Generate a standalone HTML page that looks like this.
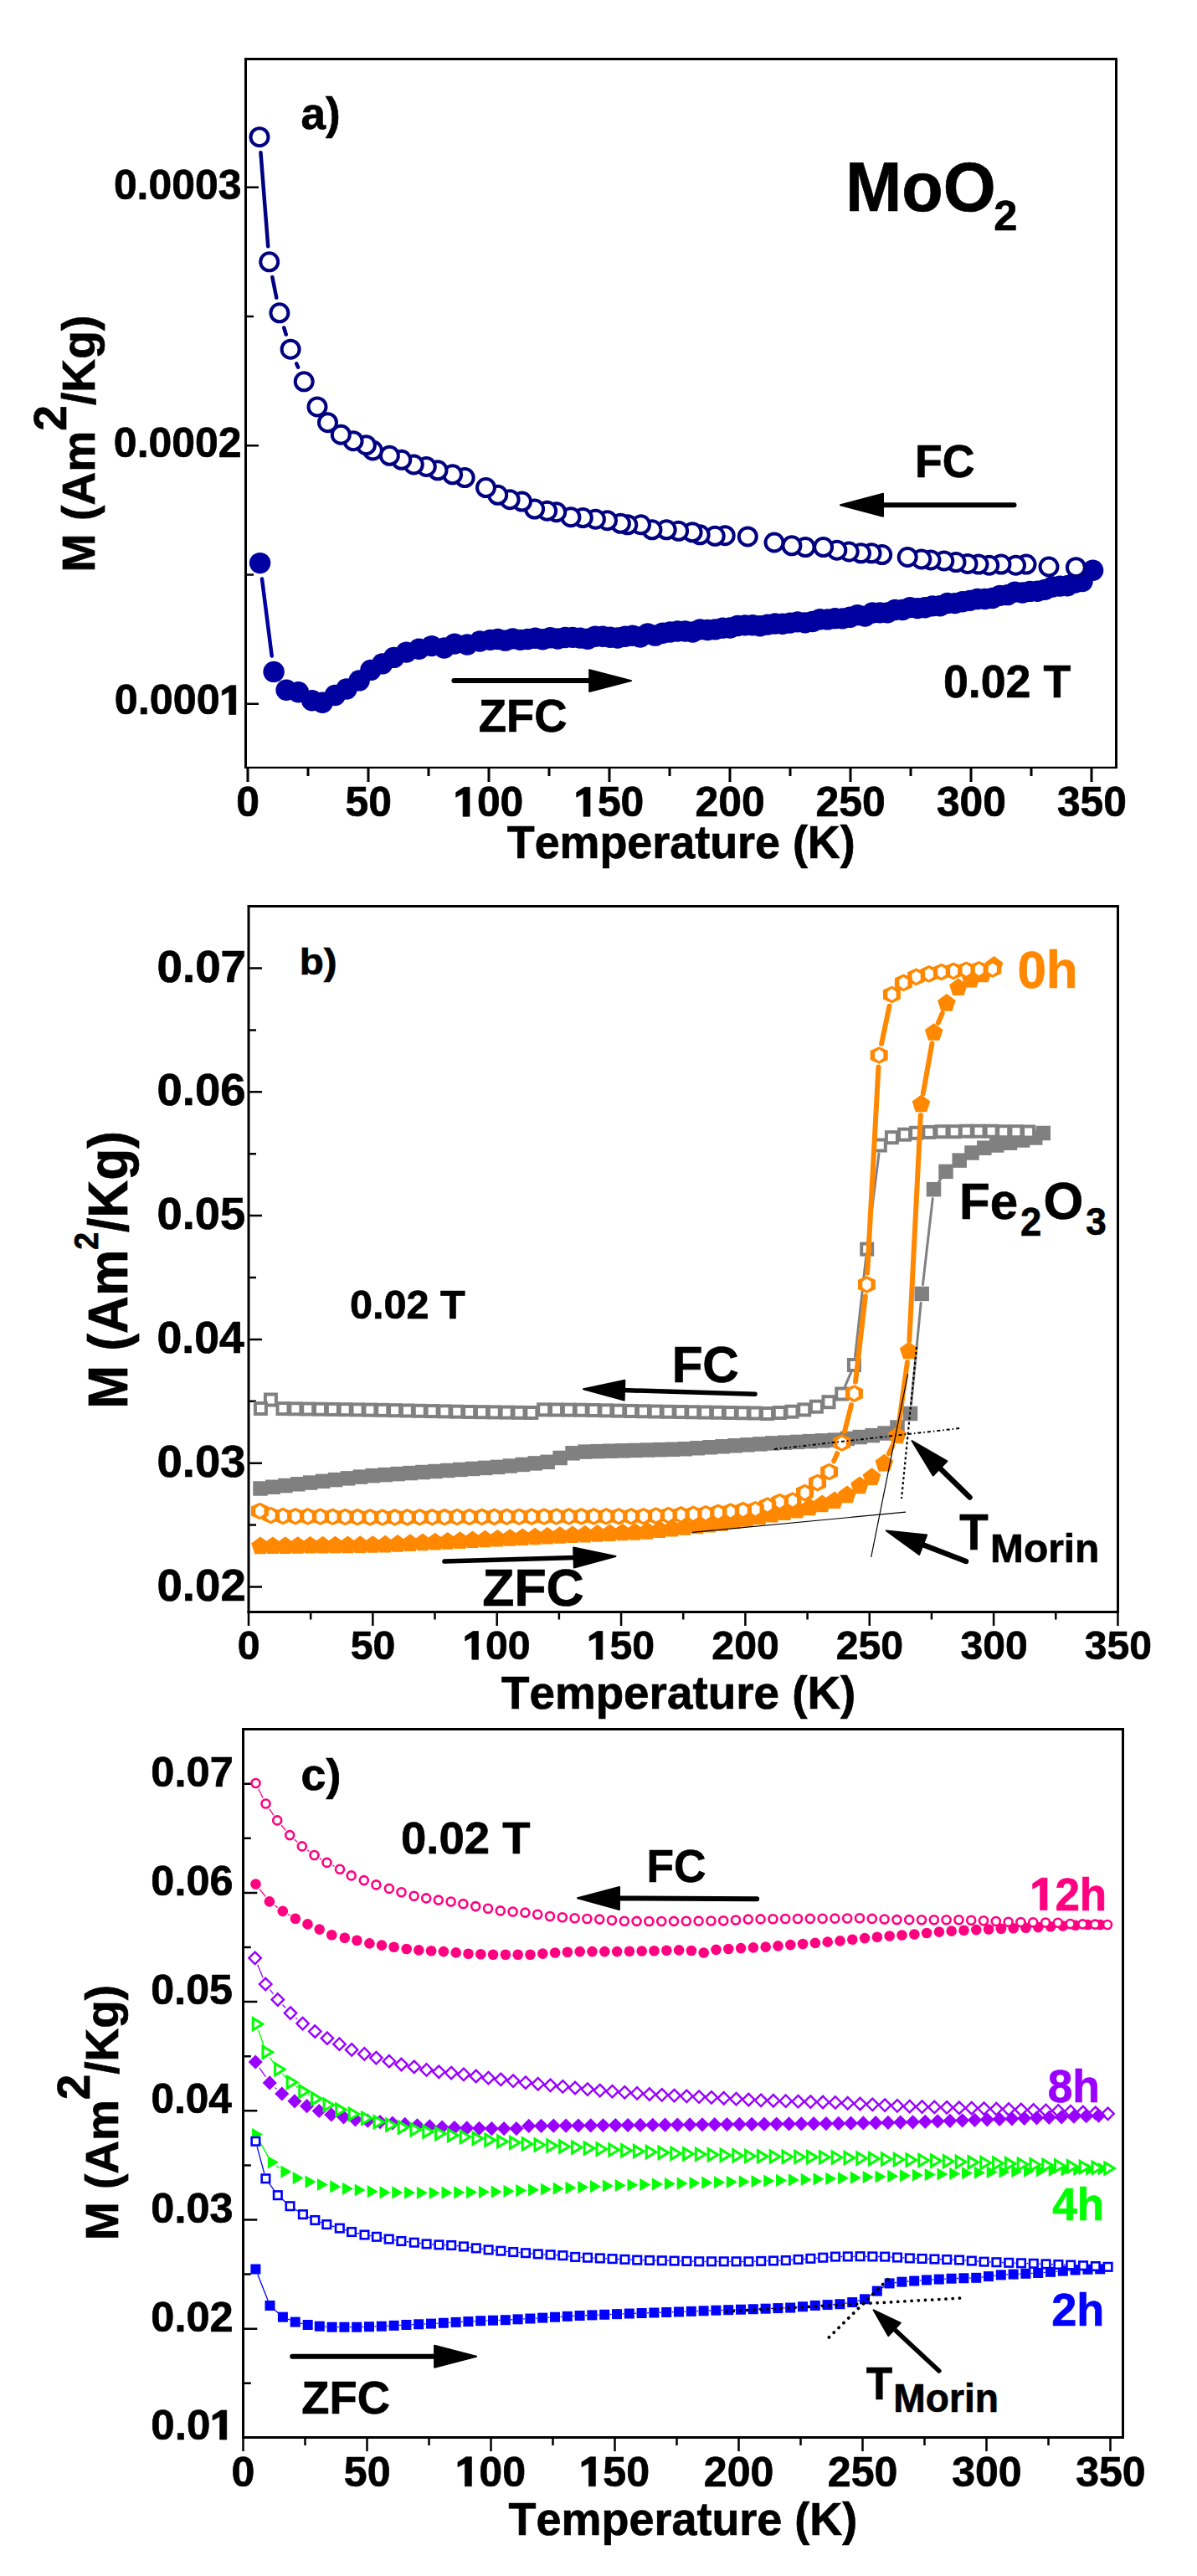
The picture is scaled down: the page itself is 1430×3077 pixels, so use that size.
<!DOCTYPE html>
<html><head><meta charset="utf-8"><style>
html,body{margin:0;padding:0;background:#fff;}
svg{display:block;}
text{font-family:"Liberation Sans",sans-serif;font-weight:bold;font-kerning:none;}
</style></head><body>
<svg width="1430" height="3077" viewBox="0 0 1430 3077">
<rect width="1430" height="3077" fill="#fff"/>
<path d="M293.5 918.05V70.5H1333.5V918.05" fill="none" stroke="#000" stroke-width="3" stroke-linejoin="miter"/>
<path d="M292 916.9H1335" stroke="#000" stroke-width="2.3"/>
<path d="M296 917.5V934M440 917.5V934M584 917.5V934M728 917.5V934M872 917.5V934M1016 917.5V934M1160 917.5V934M1304 917.5V934M368 917.5V927M512 917.5V927M656 917.5V927M800 917.5V927M944 917.5V927M1088 917.5V927M1232 917.5V927" stroke="#000" stroke-width="3"/>
<path d="M295 840.8H309M295 532.3H309M295 223.8H309M295 686.55H303M295 378.05H303" stroke="#000" stroke-width="2.5"/>
<g transform="translate(282.17 975.16) scale(1.0000 1)"><text font-size="49.86" fill="#000" stroke="#000" stroke-width="0.7">0</text></g>
<g transform="translate(412.53 975.16) scale(1.0000 1)"><text font-size="49.86" fill="#000" stroke="#000" stroke-width="0.7">50</text></g>
<g transform="translate(542.15 975.16) scale(1.0000 1)"><text font-size="49.86" fill="#000" stroke="#000" stroke-width="0.7"> 00</text><path d="M450 0L450 1120L105 945L105 1175L505 1430L775 1430L775 0Z" fill="#000" stroke="#000" stroke-width="28.75" transform="translate(0 0) scale(0.02434 -0.02434)"/></g>
<g transform="translate(686.15 975.16) scale(1.0000 1)"><text font-size="49.86" fill="#000" stroke="#000" stroke-width="0.7"> 50</text><path d="M450 0L450 1120L105 945L105 1175L505 1430L775 1430L775 0Z" fill="#000" stroke="#000" stroke-width="28.75" transform="translate(0 0) scale(0.02434 -0.02434)"/></g>
<g transform="translate(830.57 975.16) scale(1.0000 1)"><text font-size="49.86" fill="#000" stroke="#000" stroke-width="0.7">200</text></g>
<g transform="translate(974.57 975.16) scale(1.0000 1)"><text font-size="49.86" fill="#000" stroke="#000" stroke-width="0.7">250</text></g>
<g transform="translate(1118.94 975.09) scale(1.0000 1)"><text font-size="49.76" fill="#000" stroke="#000" stroke-width="0.7">300</text></g>
<g transform="translate(1262.94 975.09) scale(1.0000 1)"><text font-size="49.76" fill="#000" stroke="#000" stroke-width="0.7">350</text></g>
<g transform="translate(135.88 237.89) scale(1.0083 1)"><text font-size="49.47" fill="#000" stroke="#000" stroke-width="0.7">0.0003</text></g>
<g transform="translate(135.87 546.16) scale(1.0018 1)"><text font-size="49.86" fill="#000" stroke="#000" stroke-width="0.7">0.0002</text></g>
<g transform="translate(136.76 853.46) scale(1.0123 1)"><text font-size="49.72" fill="#000" stroke="#000" stroke-width="0.7">0.000 </text><path d="M450 0L450 1120L105 945L105 1175L505 1430L775 1430L775 0Z" fill="#000" stroke="#000" stroke-width="28.84" transform="translate(124.41 0) scale(0.02428 -0.02428)"/></g>
<g transform="translate(605.75 1024.55) scale(0.9726 1)"><text font-size="55.38" fill="#000" stroke="#000" stroke-width="0.7">Temperature (K)</text></g>
<text transform="translate(112.65 683.38) rotate(-90) scale(0.9829 1)" font-size="56.18" stroke="#000" stroke-width="0.7"><tspan>M (Am</tspan><tspan dy="-34">2</tspan><tspan dy="34">/Kg)</tspan></text>
<g transform="translate(359.6 154.47) scale(1.0013 1)"><text font-size="52.89" fill="#000" stroke="#000" stroke-width="0.7">a)</text></g>
<g transform="translate(1009.94 252.45) scale(0.9712 1)"><text font-size="83.28" fill="#000" stroke="#000" stroke-width="0.7">MoO</text></g>
<g transform="translate(1187.3 274.55) scale(1.0215 1)"><text font-size="49.41" fill="#000" stroke="#000" stroke-width="0.7">2</text></g>
<g transform="translate(1093.06 570.31) scale(0.9608 1)"><text font-size="55.79" fill="#000" stroke="#000" stroke-width="0.7">FC</text></g>
<path d="M1211.5 603.2L1053 603.2" stroke="#000" stroke-width="6" stroke-linecap="round"/>
<polygon points="1004,603.2 1055,589.7 1055,616.7" fill="#000" stroke="#000" stroke-width="2" stroke-linejoin="round"/>
<g transform="translate(571.83 873.71) scale(0.9923 1)"><text font-size="54.8" fill="#000" stroke="#000" stroke-width="0.7">ZFC</text></g>
<path d="M542.4 813.1L706.2 813.1" stroke="#000" stroke-width="6" stroke-linecap="round"/>
<polygon points="754.2,813.1 704.2,826.1 704.2,800.1" fill="#000" stroke="#000" stroke-width="2" stroke-linejoin="round"/>
<g transform="translate(1126.93 833.11) scale(0.9678 1)"><text font-size="55.51" fill="#000" stroke="#000" stroke-width="0.7">0.02 T</text></g>
<path d="M313 691.45L324.7 783.55" stroke="#0000A0" stroke-width="4.5" fill="none" stroke-linecap="round"/>
<circle cx="310.6" cy="672.6" r="12.7" fill="#0000A0"/><circle cx="327.1" cy="802.4" r="12.7" fill="#0000A0"/><circle cx="342.1" cy="824.2" r="12.7" fill="#0000A0"/><circle cx="356.4" cy="826.7" r="12.7" fill="#0000A0"/><circle cx="372.7" cy="836.7" r="12.7" fill="#0000A0"/><circle cx="385.2" cy="839.2" r="12.7" fill="#0000A0"/><circle cx="400.3" cy="830.5" r="12.7" fill="#0000A0"/><circle cx="414" cy="823" r="12.7" fill="#0000A0"/><circle cx="429.1" cy="812.9" r="12.7" fill="#0000A0"/><circle cx="442.9" cy="800.4" r="12.7" fill="#0000A0"/><circle cx="456.7" cy="792.9" r="12.7" fill="#0000A0"/><circle cx="470.5" cy="785.4" r="12.7" fill="#0000A0"/><circle cx="485.5" cy="779.1" r="12.7" fill="#0000A0"/><circle cx="500.5" cy="775.3" r="12.7" fill="#0000A0"/><circle cx="515.6" cy="771.6" r="12.7" fill="#0000A0"/><circle cx="530.6" cy="774" r="12.7" fill="#0000A0"/><circle cx="543.1" cy="769.1" r="12.7" fill="#0000A0"/><circle cx="558.2" cy="770" r="12.7" fill="#0000A0"/><circle cx="573.2" cy="766" r="12.7" fill="#0000A0"/><circle cx="585.7" cy="764.37" r="12.7" fill="#0000A0"/><circle cx="594.65" cy="763.55" r="12.7" fill="#0000A0"/><circle cx="603.61" cy="765.16" r="12.7" fill="#0000A0"/><circle cx="612.56" cy="762.89" r="12.7" fill="#0000A0"/><circle cx="621.51" cy="764.37" r="12.7" fill="#0000A0"/><circle cx="630.47" cy="763.57" r="12.7" fill="#0000A0"/><circle cx="639.42" cy="762.27" r="12.7" fill="#0000A0"/><circle cx="648.37" cy="763.7" r="12.7" fill="#0000A0"/><circle cx="657.33" cy="761.82" r="12.7" fill="#0000A0"/><circle cx="666.28" cy="763.05" r="12.7" fill="#0000A0"/><circle cx="675.23" cy="761.55" r="12.7" fill="#0000A0"/><circle cx="684.18" cy="761.34" r="12.7" fill="#0000A0"/><circle cx="693.14" cy="762.14" r="12.7" fill="#0000A0"/><circle cx="702.09" cy="763.19" r="12.7" fill="#0000A0"/><circle cx="711.04" cy="760.27" r="12.7" fill="#0000A0"/><circle cx="720" cy="760.23" r="12.7" fill="#0000A0"/><circle cx="728.95" cy="761.28" r="12.7" fill="#0000A0"/><circle cx="737.9" cy="762.04" r="12.7" fill="#0000A0"/><circle cx="746.86" cy="760.31" r="12.7" fill="#0000A0"/><circle cx="755.81" cy="759.26" r="12.7" fill="#0000A0"/><circle cx="764.76" cy="760.95" r="12.7" fill="#0000A0"/><circle cx="773.72" cy="757.03" r="12.7" fill="#0000A0"/><circle cx="782.67" cy="759.15" r="12.7" fill="#0000A0"/><circle cx="791.62" cy="756.3" r="12.7" fill="#0000A0"/><circle cx="800.58" cy="754.97" r="12.7" fill="#0000A0"/><circle cx="809.53" cy="754.07" r="12.7" fill="#0000A0"/><circle cx="818.48" cy="753.95" r="12.7" fill="#0000A0"/><circle cx="827.44" cy="754.97" r="12.7" fill="#0000A0"/><circle cx="836.39" cy="751.88" r="12.7" fill="#0000A0"/><circle cx="845.34" cy="752.51" r="12.7" fill="#0000A0"/><circle cx="854.29" cy="751.91" r="12.7" fill="#0000A0"/><circle cx="863.25" cy="750.15" r="12.7" fill="#0000A0"/><circle cx="872.2" cy="750" r="12.7" fill="#0000A0"/><circle cx="881.15" cy="747.56" r="12.7" fill="#0000A0"/><circle cx="890.11" cy="746.85" r="12.7" fill="#0000A0"/><circle cx="899.06" cy="746.68" r="12.7" fill="#0000A0"/><circle cx="908.01" cy="747.69" r="12.7" fill="#0000A0"/><circle cx="916.97" cy="746.09" r="12.7" fill="#0000A0"/><circle cx="925.92" cy="744.98" r="12.7" fill="#0000A0"/><circle cx="934.87" cy="745.26" r="12.7" fill="#0000A0"/><circle cx="943.83" cy="744.09" r="12.7" fill="#0000A0"/><circle cx="952.78" cy="742.84" r="12.7" fill="#0000A0"/><circle cx="961.73" cy="743.86" r="12.7" fill="#0000A0"/><circle cx="970.69" cy="742.46" r="12.7" fill="#0000A0"/><circle cx="979.64" cy="739.77" r="12.7" fill="#0000A0"/><circle cx="988.59" cy="739.9" r="12.7" fill="#0000A0"/><circle cx="997.55" cy="738.67" r="12.7" fill="#0000A0"/><circle cx="1006.5" cy="738.88" r="12.7" fill="#0000A0"/><circle cx="1015.45" cy="737.3" r="12.7" fill="#0000A0"/><circle cx="1024.41" cy="734.66" r="12.7" fill="#0000A0"/><circle cx="1033.36" cy="736.1" r="12.7" fill="#0000A0"/><circle cx="1042.31" cy="731.94" r="12.7" fill="#0000A0"/><circle cx="1051.26" cy="731.85" r="12.7" fill="#0000A0"/><circle cx="1060.22" cy="731.84" r="12.7" fill="#0000A0"/><circle cx="1069.17" cy="728.44" r="12.7" fill="#0000A0"/><circle cx="1078.12" cy="728.43" r="12.7" fill="#0000A0"/><circle cx="1087.08" cy="725.58" r="12.7" fill="#0000A0"/><circle cx="1096.03" cy="726.62" r="12.7" fill="#0000A0"/><circle cx="1104.98" cy="725.74" r="12.7" fill="#0000A0"/><circle cx="1113.94" cy="723.83" r="12.7" fill="#0000A0"/><circle cx="1122.89" cy="723.69" r="12.7" fill="#0000A0"/><circle cx="1131.84" cy="720.45" r="12.7" fill="#0000A0"/><circle cx="1140.8" cy="720.58" r="12.7" fill="#0000A0"/><circle cx="1149.75" cy="718.82" r="12.7" fill="#0000A0"/><circle cx="1158.7" cy="717.37" r="12.7" fill="#0000A0"/><circle cx="1167.66" cy="715.52" r="12.7" fill="#0000A0"/><circle cx="1176.61" cy="715.5" r="12.7" fill="#0000A0"/><circle cx="1185.56" cy="714.48" r="12.7" fill="#0000A0"/><circle cx="1194.52" cy="711.39" r="12.7" fill="#0000A0"/><circle cx="1203.47" cy="710.67" r="12.7" fill="#0000A0"/><circle cx="1212.42" cy="707.1" r="12.7" fill="#0000A0"/><circle cx="1221.37" cy="708.01" r="12.7" fill="#0000A0"/><circle cx="1230.33" cy="706.42" r="12.7" fill="#0000A0"/><circle cx="1239.28" cy="706.29" r="12.7" fill="#0000A0"/><circle cx="1248.23" cy="704.34" r="12.7" fill="#0000A0"/><circle cx="1257.19" cy="701.07" r="12.7" fill="#0000A0"/><circle cx="1266.14" cy="700.1" r="12.7" fill="#0000A0"/><circle cx="1275.09" cy="699.78" r="12.7" fill="#0000A0"/><circle cx="1284.05" cy="695.93" r="12.7" fill="#0000A0"/><circle cx="1293" cy="694.53" r="12.7" fill="#0000A0"/><circle cx="1305.6" cy="681.3" r="12.7" fill="#0000A0"/>
<path d="M311.45 182.14L320.25 294.36M325.33 330.94L330.27 355.66M339.28 391.5L341.72 399.5M354.22 434.27L356.08 438.73" stroke="#000080" stroke-width="4.5" fill="none" stroke-linecap="round"/>
<circle cx="1285.4" cy="677.7" r="10.5" fill="#fff" stroke="#000080" stroke-width="4"/><circle cx="1253" cy="677" r="10.5" fill="#fff" stroke="#000080" stroke-width="4"/><circle cx="1226" cy="674.1" r="10.5" fill="#fff" stroke="#000080" stroke-width="4"/><circle cx="1213.5" cy="675.2" r="10.5" fill="#fff" stroke="#000080" stroke-width="4"/><circle cx="1196" cy="674.1" r="10.5" fill="#fff" stroke="#000080" stroke-width="4"/><circle cx="1181.7" cy="675.2" r="10.5" fill="#fff" stroke="#000080" stroke-width="4"/><circle cx="1169" cy="674.1" r="10.5" fill="#fff" stroke="#000080" stroke-width="4"/><circle cx="1156" cy="673.4" r="10.5" fill="#fff" stroke="#000080" stroke-width="4"/><circle cx="1142" cy="671.6" r="10.5" fill="#fff" stroke="#000080" stroke-width="4"/><circle cx="1127.8" cy="670" r="10.5" fill="#fff" stroke="#000080" stroke-width="4"/><circle cx="1112" cy="669" r="10.5" fill="#fff" stroke="#000080" stroke-width="4"/><circle cx="1100.8" cy="668" r="10.5" fill="#fff" stroke="#000080" stroke-width="4"/><circle cx="1084.2" cy="665.5" r="10.5" fill="#fff" stroke="#000080" stroke-width="4"/><circle cx="1053.7" cy="662.6" r="10.5" fill="#fff" stroke="#000080" stroke-width="4"/><circle cx="1041.1" cy="660.8" r="10.5" fill="#fff" stroke="#000080" stroke-width="4"/><circle cx="1028.5" cy="660.8" r="10.5" fill="#fff" stroke="#000080" stroke-width="4"/><circle cx="1014.2" cy="659" r="10.5" fill="#fff" stroke="#000080" stroke-width="4"/><circle cx="999.8" cy="657.2" r="10.5" fill="#fff" stroke="#000080" stroke-width="4"/><circle cx="983.6" cy="653.6" r="10.5" fill="#fff" stroke="#000080" stroke-width="4"/><circle cx="962.1" cy="653.6" r="10.5" fill="#fff" stroke="#000080" stroke-width="4"/><circle cx="945.9" cy="651.8" r="10.5" fill="#fff" stroke="#000080" stroke-width="4"/><circle cx="925" cy="648" r="10.5" fill="#fff" stroke="#000080" stroke-width="4"/><circle cx="893.3" cy="640.9" r="10.5" fill="#fff" stroke="#000080" stroke-width="4"/><circle cx="866.2" cy="639.7" r="10.5" fill="#fff" stroke="#000080" stroke-width="4"/><circle cx="854.2" cy="640.3" r="10.5" fill="#fff" stroke="#000080" stroke-width="4"/><circle cx="836.2" cy="638.8" r="10.5" fill="#fff" stroke="#000080" stroke-width="4"/><circle cx="827.1" cy="635.8" r="10.5" fill="#fff" stroke="#000080" stroke-width="4"/><circle cx="810.6" cy="634.3" r="10.5" fill="#fff" stroke="#000080" stroke-width="4"/><circle cx="796.2" cy="632.8" r="10.5" fill="#fff" stroke="#000080" stroke-width="4"/><circle cx="779" cy="632.8" r="10.5" fill="#fff" stroke="#000080" stroke-width="4"/><circle cx="765.5" cy="626.8" r="10.5" fill="#fff" stroke="#000080" stroke-width="4"/><circle cx="749.8" cy="626.8" r="10.5" fill="#fff" stroke="#000080" stroke-width="4"/><circle cx="741.4" cy="625.3" r="10.5" fill="#fff" stroke="#000080" stroke-width="4"/><circle cx="725.5" cy="621.7" r="10.5" fill="#fff" stroke="#000080" stroke-width="4"/><circle cx="711.4" cy="620.2" r="10.5" fill="#fff" stroke="#000080" stroke-width="4"/><circle cx="696.3" cy="618.6" r="10.5" fill="#fff" stroke="#000080" stroke-width="4"/><circle cx="681.9" cy="617.7" r="10.5" fill="#fff" stroke="#000080" stroke-width="4"/><circle cx="664.7" cy="611.7" r="10.5" fill="#fff" stroke="#000080" stroke-width="4"/><circle cx="653.6" cy="610.2" r="10.5" fill="#fff" stroke="#000080" stroke-width="4"/><circle cx="638.6" cy="608.1" r="10.5" fill="#fff" stroke="#000080" stroke-width="4"/><circle cx="623.5" cy="599.1" r="10.5" fill="#fff" stroke="#000080" stroke-width="4"/><circle cx="609.1" cy="596.7" r="10.5" fill="#fff" stroke="#000080" stroke-width="4"/><circle cx="594.7" cy="591.3" r="10.5" fill="#fff" stroke="#000080" stroke-width="4"/><circle cx="580.5" cy="582.6" r="10.5" fill="#fff" stroke="#000080" stroke-width="4"/><circle cx="555.2" cy="570.6" r="10.5" fill="#fff" stroke="#000080" stroke-width="4"/><circle cx="540.6" cy="566.8" r="10.5" fill="#fff" stroke="#000080" stroke-width="4"/><circle cx="523" cy="561.8" r="10.5" fill="#fff" stroke="#000080" stroke-width="4"/><circle cx="509.3" cy="557.5" r="10.5" fill="#fff" stroke="#000080" stroke-width="4"/><circle cx="494.3" cy="555" r="10.5" fill="#fff" stroke="#000080" stroke-width="4"/><circle cx="479.7" cy="549.3" r="10.5" fill="#fff" stroke="#000080" stroke-width="4"/><circle cx="465.4" cy="544.3" r="10.5" fill="#fff" stroke="#000080" stroke-width="4"/><circle cx="445.4" cy="538" r="10.5" fill="#fff" stroke="#000080" stroke-width="4"/><circle cx="437.4" cy="531.7" r="10.5" fill="#fff" stroke="#000080" stroke-width="4"/><circle cx="422.1" cy="526.7" r="10.5" fill="#fff" stroke="#000080" stroke-width="4"/><circle cx="407.3" cy="519.2" r="10.5" fill="#fff" stroke="#000080" stroke-width="4"/><circle cx="391.5" cy="504.7" r="10.5" fill="#fff" stroke="#000080" stroke-width="4"/><circle cx="379" cy="485.9" r="10.5" fill="#fff" stroke="#000080" stroke-width="4"/><circle cx="363.2" cy="455.8" r="10.5" fill="#fff" stroke="#000080" stroke-width="4"/><circle cx="347.1" cy="417.2" r="10.5" fill="#fff" stroke="#000080" stroke-width="4"/><circle cx="333.9" cy="373.8" r="10.5" fill="#fff" stroke="#000080" stroke-width="4"/><circle cx="321.7" cy="312.8" r="10.5" fill="#fff" stroke="#000080" stroke-width="4"/><circle cx="310" cy="163.7" r="10.5" fill="#fff" stroke="#000080" stroke-width="4"/>
<path d="M297 1927V1082.5H1335.5V1927" fill="none" stroke="#000" stroke-width="3" stroke-linejoin="miter"/>
<path d="M295.5 1925.5H1337" stroke="#000" stroke-width="3"/>
<path d="M297 1927V1942M445.35 1927V1942M593.7 1927V1942M742.05 1927V1942M890.4 1927V1942M1038.75 1927V1942M1187.1 1927V1942M1335.45 1927V1942M371.18 1927V1934.5M519.52 1927V1934.5M667.88 1927V1934.5M816.23 1927V1934.5M964.58 1927V1934.5M1112.93 1927V1934.5M1261.28 1927V1934.5" stroke="#000" stroke-width="2.5"/>
<path d="M298 1895.5H313M298 1747.7H313M298 1599.9H313M298 1452.1H313M298 1304.3H313M298 1156.5H313M298 1821.6H306M298 1673.8H306M298 1526H306M298 1378.2H306M298 1230.4H306" stroke="#000" stroke-width="2.5"/>
<g transform="translate(283.64 1982.18) scale(1.0000 1)"><text font-size="48.16" fill="#000" stroke="#000" stroke-width="0.7">0</text></g>
<g transform="translate(418.81 1982.18) scale(1.0000 1)"><text font-size="48.16" fill="#000" stroke="#000" stroke-width="0.7">50</text></g>
<g transform="translate(553.27 1982.18) scale(1.0000 1)"><text font-size="48.16" fill="#000" stroke="#000" stroke-width="0.7"> 00</text><path d="M450 0L450 1120L105 945L105 1175L505 1430L775 1430L775 0Z" fill="#000" stroke="#000" stroke-width="29.77" transform="translate(0 0) scale(0.02352 -0.02352)"/></g>
<g transform="translate(701.62 1982.18) scale(1.0000 1)"><text font-size="48.16" fill="#000" stroke="#000" stroke-width="0.7"> 50</text><path d="M450 0L450 1120L105 945L105 1175L505 1430L775 1430L775 0Z" fill="#000" stroke="#000" stroke-width="29.77" transform="translate(0 0) scale(0.02352 -0.02352)"/></g>
<g transform="translate(850.37 1982.18) scale(1.0000 1)"><text font-size="48.16" fill="#000" stroke="#000" stroke-width="0.7">200</text></g>
<g transform="translate(998.72 1982.18) scale(1.0000 1)"><text font-size="48.16" fill="#000" stroke="#000" stroke-width="0.7">250</text></g>
<g transform="translate(1147.44 1982.11) scale(1.0000 1)"><text font-size="48.06" fill="#000" stroke="#000" stroke-width="0.7">300</text></g>
<g transform="translate(1295.79 1982.11) scale(1.0000 1)"><text font-size="48.06" fill="#000" stroke="#000" stroke-width="0.7">350</text></g>
<g transform="translate(187.49 1911.62) scale(1.0049 1)"><text font-size="54.38" fill="#000" stroke="#000" stroke-width="0.7">0.02</text></g>
<g transform="translate(187.49 1763.74) scale(1.0048 1)"><text font-size="54.27" fill="#000" stroke="#000" stroke-width="0.7">0.03</text></g>
<g transform="translate(187.53 1616.02) scale(0.9865 1)"><text font-size="54.38" fill="#000" stroke="#000" stroke-width="0.7">0.04</text></g>
<g transform="translate(187.5 1468.22) scale(0.9983 1)"><text font-size="54.38" fill="#000" stroke="#000" stroke-width="0.7">0.05</text></g>
<g transform="translate(187.49 1320.42) scale(1.0028 1)"><text font-size="54.38" fill="#000" stroke="#000" stroke-width="0.7">0.06</text></g>
<g transform="translate(187.48 1172.62) scale(1.0070 1)"><text font-size="54.38" fill="#000" stroke="#000" stroke-width="0.7">0.07</text></g>
<g transform="translate(598.93 2041.45) scale(1.0005 1)"><text font-size="54.8" fill="#000" stroke="#000" stroke-width="0.7">Temperature (K)</text></g>
<text transform="translate(151.65 1682.84) rotate(-90) scale(0.9356 1)" font-size="66.5" stroke="#000" stroke-width="0.7"><tspan>M (Am</tspan><tspan dy="-34.8" font-size="40">2</tspan><tspan dy="34.8">/Kg)</tspan></text>
<g transform="translate(357.81 1163.88) scale(1.0534 1)"><text font-size="45.17" fill="#000" stroke="#000" stroke-width="0.7">b)</text></g>
<g transform="translate(1215.4 1179.85) scale(0.9917 1)"><text font-size="62.46" fill="#FF8800" stroke="#FF8800" stroke-width="0.7">0h</text></g>
<g transform="translate(1146.03 1455.65) scale(0.9766 1)"><text font-size="61.48" fill="#000" stroke="#000" stroke-width="0.7">Fe</text></g>
<g transform="translate(1218.97 1475.65) scale(0.9481 1)"><text font-size="47.98" fill="#000" stroke="#000" stroke-width="0.7">2</text></g>
<g transform="translate(1246.43 1455.84) scale(0.9800 1)"><text font-size="62.71" fill="#000" stroke="#000" stroke-width="0.7">O</text></g>
<g transform="translate(1297.24 1475.13) scale(0.9559 1)"><text font-size="46.09" fill="#000" stroke="#000" stroke-width="0.7">3</text></g>
<g transform="translate(417.93 1574.55) scale(1.0076 1)"><text font-size="48.26" fill="#000" stroke="#000" stroke-width="0.7">0.02 T</text></g>
<g transform="translate(802.63 1651.26) scale(0.9879 1)"><text font-size="60.88" fill="#000" stroke="#000" stroke-width="0.7">FC</text></g>
<path d="M902 1665.2L743.98 1660.58" stroke="#000" stroke-width="5.5" stroke-linecap="round"/>
<polygon points="697,1659.2 746.33,1648.64 745.63,1672.63" fill="#000" stroke="#000" stroke-width="2" stroke-linejoin="round"/>
<g transform="translate(576.19 1918.25) scale(1.0054 1)"><text font-size="62.21" fill="#000" stroke="#000" stroke-width="0.7">ZFC</text></g>
<path d="M531 1865.1L687.52 1860.43" stroke="#000" stroke-width="5.5" stroke-linecap="round"/>
<polygon points="735.5,1859 685.88,1872.49 685.16,1848.5" fill="#000" stroke="#000" stroke-width="2" stroke-linejoin="round"/>
<g transform="translate(1146.22 1850.65) scale(0.9258 1)"><text font-size="60.9" fill="#000" stroke="#000" stroke-width="0.7">T</text></g>
<g transform="translate(1183.05 1865.65) scale(0.9801 1)"><text font-size="48.84" fill="#000" stroke="#000" stroke-width="0.7">Morin</text></g>
<path d="M1158.5 1788.5L1121.67 1752.47" stroke="#000" stroke-width="6.5" stroke-linecap="round"/>
<polygon points="1089.5,1721 1131.49,1745.29 1114.71,1762.44" fill="#000" stroke="#000" stroke-width="2" stroke-linejoin="round"/>
<path d="M1154 1865L1100.8 1844.55" stroke="#000" stroke-width="6.5" stroke-linecap="round"/>
<polygon points="1058.8,1828.4 1107.16,1833.6 1098.18,1856.93" fill="#000" stroke="#000" stroke-width="2" stroke-linejoin="round"/>
<path d="M1079.53 1696.98L1079.97 1696.52M1088.55 1677.55L1100.15 1556.35M1102.45 1534.47L1114.25 1431.63M1121.69 1411.61L1123.81 1408.49" stroke="#808080" stroke-width="3" fill="none" stroke-linecap="round"/>
<rect x="302.25" y="1769.25" width="17.5" height="17.5" fill="#808080"/><rect x="317.17" y="1767.51" width="17.5" height="17.5" fill="#808080"/><rect x="332.09" y="1765.78" width="17.5" height="17.5" fill="#808080"/><rect x="347.01" y="1764.04" width="17.5" height="17.5" fill="#808080"/><rect x="361.94" y="1762.31" width="17.5" height="17.5" fill="#808080"/><rect x="376.86" y="1760.57" width="17.5" height="17.5" fill="#808080"/><rect x="391.78" y="1758.84" width="17.5" height="17.5" fill="#808080"/><rect x="406.7" y="1757.1" width="17.5" height="17.5" fill="#808080"/><rect x="421.62" y="1755.37" width="17.5" height="17.5" fill="#808080"/><rect x="436.54" y="1753.89" width="17.5" height="17.5" fill="#808080"/><rect x="451.47" y="1752.86" width="17.5" height="17.5" fill="#808080"/><rect x="466.39" y="1751.83" width="17.5" height="17.5" fill="#808080"/><rect x="481.31" y="1750.81" width="17.5" height="17.5" fill="#808080"/><rect x="496.23" y="1749.78" width="17.5" height="17.5" fill="#808080"/><rect x="511.15" y="1748.76" width="17.5" height="17.5" fill="#808080"/><rect x="526.07" y="1747.73" width="17.5" height="17.5" fill="#808080"/><rect x="541" y="1746.71" width="17.5" height="17.5" fill="#808080"/><rect x="555.92" y="1745.68" width="17.5" height="17.5" fill="#808080"/><rect x="570.84" y="1744.65" width="17.5" height="17.5" fill="#808080"/><rect x="585.76" y="1743.63" width="17.5" height="17.5" fill="#808080"/><rect x="600.68" y="1742.26" width="17.5" height="17.5" fill="#808080"/><rect x="615.6" y="1740.7" width="17.5" height="17.5" fill="#808080"/><rect x="630.52" y="1739.13" width="17.5" height="17.5" fill="#808080"/><rect x="645.45" y="1737.57" width="17.5" height="17.5" fill="#808080"/><rect x="660.37" y="1732.75" width="17.5" height="17.5" fill="#808080"/><rect x="675.29" y="1727.06" width="17.5" height="17.5" fill="#808080"/><rect x="690.21" y="1725.37" width="17.5" height="17.5" fill="#808080"/><rect x="705.13" y="1724.88" width="17.5" height="17.5" fill="#808080"/><rect x="720.05" y="1724.49" width="17.5" height="17.5" fill="#808080"/><rect x="734.98" y="1724.1" width="17.5" height="17.5" fill="#808080"/><rect x="749.9" y="1723.71" width="17.5" height="17.5" fill="#808080"/><rect x="764.82" y="1723.31" width="17.5" height="17.5" fill="#808080"/><rect x="779.74" y="1722.92" width="17.5" height="17.5" fill="#808080"/><rect x="794.66" y="1722.53" width="17.5" height="17.5" fill="#808080"/><rect x="809.58" y="1721.97" width="17.5" height="17.5" fill="#808080"/><rect x="824.5" y="1720.99" width="17.5" height="17.5" fill="#808080"/><rect x="839.43" y="1720.01" width="17.5" height="17.5" fill="#808080"/><rect x="854.35" y="1719.04" width="17.5" height="17.5" fill="#808080"/><rect x="869.27" y="1718.06" width="17.5" height="17.5" fill="#808080"/><rect x="884.19" y="1717.09" width="17.5" height="17.5" fill="#808080"/><rect x="899.11" y="1716.11" width="17.5" height="17.5" fill="#808080"/><rect x="914.03" y="1715.16" width="17.5" height="17.5" fill="#808080"/><rect x="928.96" y="1714.4" width="17.5" height="17.5" fill="#808080"/><rect x="943.88" y="1713.65" width="17.5" height="17.5" fill="#808080"/><rect x="958.8" y="1712.89" width="17.5" height="17.5" fill="#808080"/><rect x="973.72" y="1712.14" width="17.5" height="17.5" fill="#808080"/><rect x="988.64" y="1711.38" width="17.5" height="17.5" fill="#808080"/><rect x="1003.56" y="1709.68" width="17.5" height="17.5" fill="#808080"/><rect x="1018.49" y="1707.78" width="17.5" height="17.5" fill="#808080"/><rect x="1033.41" y="1705.88" width="17.5" height="17.5" fill="#808080"/><rect x="1048.33" y="1703.27" width="17.5" height="17.5" fill="#808080"/><rect x="1063.25" y="1696.25" width="17.5" height="17.5" fill="#808080"/><rect x="1078.75" y="1679.75" width="17.5" height="17.5" fill="#808080"/><rect x="1092.45" y="1536.65" width="17.5" height="17.5" fill="#808080"/><rect x="1106.75" y="1411.95" width="17.5" height="17.5" fill="#808080"/><rect x="1121.25" y="1390.65" width="17.5" height="17.5" fill="#808080"/><rect x="1137.45" y="1377.35" width="17.5" height="17.5" fill="#808080"/><rect x="1152.25" y="1368.25" width="17.5" height="17.5" fill="#808080"/><rect x="1167.05" y="1362.45" width="17.5" height="17.5" fill="#808080"/><rect x="1181.95" y="1359.25" width="17.5" height="17.5" fill="#808080"/><rect x="1197.75" y="1356.45" width="17.5" height="17.5" fill="#808080"/><rect x="1212.75" y="1353.25" width="17.5" height="17.5" fill="#808080"/><rect x="1227.95" y="1350.25" width="17.5" height="17.5" fill="#808080"/><rect x="1237.55" y="1344.75" width="17.5" height="17.5" fill="#808080"/>
<path d="M1009.62 1655.8L1016.48 1639.7M1021.5 1620.56L1034.6 1502.04M1036.95 1482.18L1050.05 1377.92" stroke="#808080" stroke-width="3" fill="none" stroke-linecap="round"/>
<rect x="1222.1" y="1345.5" width="13" height="13" fill="#fff" stroke="#808080" stroke-width="4"/><rect x="1207.4" y="1345.2" width="13" height="13" fill="#fff" stroke="#808080" stroke-width="4"/><rect x="1192.2" y="1345.2" width="13" height="13" fill="#fff" stroke="#808080" stroke-width="4"/><rect x="1177.7" y="1344.7" width="13" height="13" fill="#fff" stroke="#808080" stroke-width="4"/><rect x="1162.5" y="1344.7" width="13" height="13" fill="#fff" stroke="#808080" stroke-width="4"/><rect x="1147.8" y="1344.7" width="13" height="13" fill="#fff" stroke="#808080" stroke-width="4"/><rect x="1133.7" y="1345.2" width="13" height="13" fill="#fff" stroke="#808080" stroke-width="4"/><rect x="1118.5" y="1345.2" width="13" height="13" fill="#fff" stroke="#808080" stroke-width="4"/><rect x="1103.3" y="1345.9" width="13" height="13" fill="#fff" stroke="#808080" stroke-width="4"/><rect x="1088.1" y="1346.8" width="13" height="13" fill="#fff" stroke="#808080" stroke-width="4"/><rect x="1074.1" y="1348.7" width="13" height="13" fill="#fff" stroke="#808080" stroke-width="4"/><rect x="1058.9" y="1352.2" width="13" height="13" fill="#fff" stroke="#808080" stroke-width="4"/><rect x="1044.8" y="1361.5" width="13" height="13" fill="#fff" stroke="#808080" stroke-width="4"/><rect x="1029.2" y="1485.6" width="13" height="13" fill="#fff" stroke="#808080" stroke-width="4"/><rect x="1013.9" y="1624" width="13" height="13" fill="#fff" stroke="#808080" stroke-width="4"/><rect x="999.2" y="1658.5" width="13" height="13" fill="#fff" stroke="#808080" stroke-width="4"/><rect x="983.5" y="1668.2" width="13" height="13" fill="#fff" stroke="#808080" stroke-width="4"/><rect x="968.9" y="1673.7" width="13" height="13" fill="#fff" stroke="#808080" stroke-width="4"/><rect x="954.2" y="1677.4" width="13" height="13" fill="#fff" stroke="#808080" stroke-width="4"/><rect x="939.5" y="1679.7" width="13" height="13" fill="#fff" stroke="#808080" stroke-width="4"/><rect x="924.8" y="1681" width="13" height="13" fill="#fff" stroke="#808080" stroke-width="4"/><rect x="910" y="1682" width="13" height="13" fill="#fff" stroke="#808080" stroke-width="4"/><rect x="895.5" y="1681.5" width="13" height="13" fill="#fff" stroke="#808080" stroke-width="4"/><rect x="880.66" y="1681.26" width="13" height="13" fill="#fff" stroke="#808080" stroke-width="4"/><rect x="865.82" y="1681.01" width="13" height="13" fill="#fff" stroke="#808080" stroke-width="4"/><rect x="850.97" y="1680.77" width="13" height="13" fill="#fff" stroke="#808080" stroke-width="4"/><rect x="836.13" y="1680.53" width="13" height="13" fill="#fff" stroke="#808080" stroke-width="4"/><rect x="821.29" y="1680.28" width="13" height="13" fill="#fff" stroke="#808080" stroke-width="4"/><rect x="806.45" y="1680.04" width="13" height="13" fill="#fff" stroke="#808080" stroke-width="4"/><rect x="791.61" y="1679.8" width="13" height="13" fill="#fff" stroke="#808080" stroke-width="4"/><rect x="776.76" y="1679.55" width="13" height="13" fill="#fff" stroke="#808080" stroke-width="4"/><rect x="761.92" y="1679.25" width="13" height="13" fill="#fff" stroke="#808080" stroke-width="4"/><rect x="747.08" y="1678.94" width="13" height="13" fill="#fff" stroke="#808080" stroke-width="4"/><rect x="732.24" y="1678.62" width="13" height="13" fill="#fff" stroke="#808080" stroke-width="4"/><rect x="717.39" y="1678.31" width="13" height="13" fill="#fff" stroke="#808080" stroke-width="4"/><rect x="702.55" y="1677.99" width="13" height="13" fill="#fff" stroke="#808080" stroke-width="4"/><rect x="687.71" y="1677.75" width="13" height="13" fill="#fff" stroke="#808080" stroke-width="4"/><rect x="672.87" y="1677.62" width="13" height="13" fill="#fff" stroke="#808080" stroke-width="4"/><rect x="658.03" y="1677.48" width="13" height="13" fill="#fff" stroke="#808080" stroke-width="4"/><rect x="643.18" y="1677.35" width="13" height="13" fill="#fff" stroke="#808080" stroke-width="4"/><rect x="628.34" y="1680.98" width="13" height="13" fill="#fff" stroke="#808080" stroke-width="4"/><rect x="613.5" y="1680.79" width="13" height="13" fill="#fff" stroke="#808080" stroke-width="4"/><rect x="598.66" y="1680.59" width="13" height="13" fill="#fff" stroke="#808080" stroke-width="4"/><rect x="583.82" y="1680.4" width="13" height="13" fill="#fff" stroke="#808080" stroke-width="4"/><rect x="568.97" y="1680.2" width="13" height="13" fill="#fff" stroke="#808080" stroke-width="4"/><rect x="554.13" y="1680.01" width="13" height="13" fill="#fff" stroke="#808080" stroke-width="4"/><rect x="539.29" y="1679.7" width="13" height="13" fill="#fff" stroke="#808080" stroke-width="4"/><rect x="524.45" y="1679.39" width="13" height="13" fill="#fff" stroke="#808080" stroke-width="4"/><rect x="509.61" y="1679.08" width="13" height="13" fill="#fff" stroke="#808080" stroke-width="4"/><rect x="494.76" y="1678.77" width="13" height="13" fill="#fff" stroke="#808080" stroke-width="4"/><rect x="479.92" y="1678.46" width="13" height="13" fill="#fff" stroke="#808080" stroke-width="4"/><rect x="465.08" y="1678.15" width="13" height="13" fill="#fff" stroke="#808080" stroke-width="4"/><rect x="450.24" y="1677.84" width="13" height="13" fill="#fff" stroke="#808080" stroke-width="4"/><rect x="435.39" y="1677.61" width="13" height="13" fill="#fff" stroke="#808080" stroke-width="4"/><rect x="420.55" y="1677.39" width="13" height="13" fill="#fff" stroke="#808080" stroke-width="4"/><rect x="405.71" y="1677.18" width="13" height="13" fill="#fff" stroke="#808080" stroke-width="4"/><rect x="390.87" y="1676.96" width="13" height="13" fill="#fff" stroke="#808080" stroke-width="4"/><rect x="376.03" y="1676.75" width="13" height="13" fill="#fff" stroke="#808080" stroke-width="4"/><rect x="361.18" y="1676.53" width="13" height="13" fill="#fff" stroke="#808080" stroke-width="4"/><rect x="346.34" y="1676.32" width="13" height="13" fill="#fff" stroke="#808080" stroke-width="4"/><rect x="331.5" y="1676.1" width="13" height="13" fill="#fff" stroke="#808080" stroke-width="4"/><rect x="316.9" y="1665.5" width="13" height="13" fill="#fff" stroke="#808080" stroke-width="4"/><rect x="304.9" y="1676" width="13" height="13" fill="#fff" stroke="#808080" stroke-width="4"/>
<path d="M1061.84 1736.44L1066.36 1726.86M1073.66 1702.22L1083.94 1626.88M1086.35 1601.02L1099.85 1331.98M1102.78 1306.2L1113.42 1246.4M1120.87 1221.67L1125.73 1210.43" stroke="#FF8800" stroke-width="6" fill="none" stroke-linecap="round"/>
<polygon points="311,1835.6 321.84,1843.48 317.7,1856.22 304.3,1856.22 300.16,1843.48" fill="#FF8800"/><polygon points="325.91,1835.44 336.76,1843.32 332.62,1856.07 319.21,1856.07 315.07,1843.32" fill="#FF8800"/><polygon points="340.83,1835.29 351.67,1843.17 347.53,1855.91 334.13,1855.91 329.99,1843.17" fill="#FF8800"/><polygon points="355.74,1835.13 366.59,1843.01 362.45,1855.76 349.04,1855.76 344.9,1843.01" fill="#FF8800"/><polygon points="370.66,1834.98 381.5,1842.86 377.36,1855.6 363.96,1855.6 359.82,1842.86" fill="#FF8800"/><polygon points="385.57,1834.82 396.42,1842.7 392.28,1855.45 378.87,1855.45 374.73,1842.7" fill="#FF8800"/><polygon points="400.49,1834.67 411.33,1842.55 407.19,1855.29 393.79,1855.29 389.65,1842.55" fill="#FF8800"/><polygon points="415.4,1834.51 426.25,1842.39 422.11,1855.14 408.7,1855.14 404.56,1842.39" fill="#FF8800"/><polygon points="430.32,1834.36 441.16,1842.23 437.02,1854.98 423.62,1854.98 419.48,1842.23" fill="#FF8800"/><polygon points="445.23,1834.2 456.08,1842.08 451.93,1854.82 438.53,1854.82 434.39,1842.08" fill="#FF8800"/><polygon points="460.15,1833.84 470.99,1841.71 466.85,1854.46 453.45,1854.46 449.31,1841.71" fill="#FF8800"/><polygon points="475.06,1833.07 485.91,1840.95 481.76,1853.7 468.36,1853.7 464.22,1840.95" fill="#FF8800"/><polygon points="489.98,1832.31 500.82,1840.19 496.68,1852.93 483.28,1852.93 479.14,1840.19" fill="#FF8800"/><polygon points="504.89,1831.55 515.74,1839.43 511.59,1852.17 498.19,1852.17 494.05,1839.43" fill="#FF8800"/><polygon points="519.81,1830.79 530.65,1838.66 526.51,1851.41 513.11,1851.41 508.97,1838.66" fill="#FF8800"/><polygon points="534.72,1830.03 545.57,1837.9 541.42,1850.65 528.02,1850.65 523.88,1837.9" fill="#FF8800"/><polygon points="549.64,1829.26 560.48,1837.14 556.34,1849.89 542.94,1849.89 538.8,1837.14" fill="#FF8800"/><polygon points="564.55,1828.5 575.4,1836.38 571.25,1849.12 557.85,1849.12 553.71,1836.38" fill="#FF8800"/><polygon points="579.47,1827.74 590.31,1835.62 586.17,1848.36 572.77,1848.36 568.63,1835.62" fill="#FF8800"/><polygon points="594.38,1826.98 605.23,1834.85 601.08,1847.6 587.68,1847.6 583.54,1834.85" fill="#FF8800"/><polygon points="609.3,1826.21 620.14,1834.09 616,1846.84 602.6,1846.84 598.46,1834.09" fill="#FF8800"/><polygon points="624.21,1825.45 635.05,1833.33 630.91,1846.07 617.51,1846.07 613.37,1833.33" fill="#FF8800"/><polygon points="639.13,1824.69 649.97,1832.57 645.83,1845.31 632.43,1845.31 628.29,1832.57" fill="#FF8800"/><polygon points="654.04,1823.93 664.88,1831.8 660.74,1844.55 647.34,1844.55 643.2,1831.8" fill="#FF8800"/><polygon points="668.96,1823.16 679.8,1831.04 675.66,1843.79 662.26,1843.79 658.12,1831.04" fill="#FF8800"/><polygon points="683.87,1822.43 694.71,1830.3 690.57,1843.05 677.17,1843.05 673.03,1830.3" fill="#FF8800"/><polygon points="698.79,1821.76 709.63,1829.63 705.49,1842.38 692.09,1842.38 687.95,1829.63" fill="#FF8800"/><polygon points="713.7,1821.09 724.54,1828.96 720.4,1841.71 707,1841.71 702.86,1828.96" fill="#FF8800"/><polygon points="728.62,1820.41 739.46,1828.29 735.32,1841.04 721.92,1841.04 717.77,1828.29" fill="#FF8800"/><polygon points="743.53,1819.74 754.37,1827.62 750.23,1840.37 736.83,1840.37 732.69,1827.62" fill="#FF8800"/><polygon points="758.45,1819.07 769.29,1826.95 765.15,1839.7 751.75,1839.7 747.6,1826.95" fill="#FF8800"/><polygon points="773.36,1818.12 784.2,1826 780.06,1838.74 766.66,1838.74 762.52,1826" fill="#FF8800"/><polygon points="788.28,1816.48 799.12,1824.36 794.98,1837.1 781.58,1837.1 777.43,1824.36" fill="#FF8800"/><polygon points="803.19,1814.84 814.03,1822.72 809.89,1835.47 796.49,1835.47 792.35,1822.72" fill="#FF8800"/><polygon points="818.11,1813.2 828.95,1821.08 824.81,1833.83 811.41,1833.83 807.26,1821.08" fill="#FF8800"/><polygon points="833.02,1811.56 843.86,1819.44 839.72,1832.19 826.32,1832.19 822.18,1819.44" fill="#FF8800"/><polygon points="847.94,1809.93 858.78,1817.8 854.64,1830.55 841.24,1830.55 837.09,1817.8" fill="#FF8800"/><polygon points="862.85,1808.12 873.69,1815.99 869.55,1828.74 856.15,1828.74 852.01,1815.99" fill="#FF8800"/><polygon points="877.77,1805.58 888.61,1813.46 884.47,1826.2 871.07,1826.2 866.92,1813.46" fill="#FF8800"/><polygon points="892.68,1803.04 903.52,1810.92 899.38,1823.67 885.98,1823.67 881.84,1810.92" fill="#FF8800"/><polygon points="907.6,1800.51 918.44,1808.39 914.3,1821.13 900.89,1821.13 896.75,1808.39" fill="#FF8800"/><polygon points="922.51,1797.97 933.35,1805.85 929.21,1818.6 915.81,1818.6 911.67,1805.85" fill="#FF8800"/><polygon points="937.43,1795.44 948.27,1803.31 944.13,1816.06 930.72,1816.06 926.58,1803.31" fill="#FF8800"/><polygon points="952.34,1792.9 963.18,1800.78 959.04,1813.52 945.64,1813.52 941.5,1800.78" fill="#FF8800"/><polygon points="967.26,1789.6 978.1,1797.48 973.96,1810.23 960.55,1810.23 956.41,1797.48" fill="#FF8800"/><polygon points="982.17,1785.5 993.01,1793.38 988.87,1806.13 975.47,1806.13 971.33,1793.38" fill="#FF8800"/><polygon points="997.09,1781.4 1007.93,1789.28 1003.79,1802.02 990.38,1802.02 986.24,1789.28" fill="#FF8800"/><polygon points="1012,1774.6 1022.84,1782.48 1018.7,1795.22 1005.3,1795.22 1001.16,1782.48" fill="#FF8800"/><polygon points="1027,1763.6 1037.84,1771.48 1033.7,1784.22 1020.3,1784.22 1016.16,1771.48" fill="#FF8800"/><polygon points="1041.5,1753.3 1052.34,1761.18 1048.2,1773.92 1034.8,1773.92 1030.66,1761.18" fill="#FF8800"/><polygon points="1056.3,1736.8 1067.14,1744.68 1063,1757.42 1049.6,1757.42 1045.46,1744.68" fill="#FF8800"/><polygon points="1071.9,1703.7 1082.74,1711.58 1078.6,1724.32 1065.2,1724.32 1061.06,1711.58" fill="#FF8800"/><polygon points="1085.7,1602.6 1096.54,1610.48 1092.4,1623.22 1079,1623.22 1074.86,1610.48" fill="#FF8800"/><polygon points="1100.5,1307.6 1111.34,1315.48 1107.2,1328.22 1093.8,1328.22 1089.66,1315.48" fill="#FF8800"/><polygon points="1115.7,1222.2 1126.54,1230.08 1122.4,1242.82 1109,1242.82 1104.86,1230.08" fill="#FF8800"/><polygon points="1130.9,1187.1 1141.74,1194.98 1137.6,1207.72 1124.2,1207.72 1120.06,1194.98" fill="#FF8800"/><polygon points="1144.9,1168.4 1155.74,1176.28 1151.6,1189.02 1138.2,1189.02 1134.06,1176.28" fill="#FF8800"/><polygon points="1160,1159 1170.84,1166.88 1166.7,1179.62 1153.3,1179.62 1149.16,1166.88" fill="#FF8800"/><polygon points="1174,1152.6 1184.84,1160.48 1180.7,1173.22 1167.3,1173.22 1163.16,1160.48" fill="#FF8800"/><polygon points="1187.5,1142.1 1198.34,1149.98 1194.2,1162.72 1180.8,1162.72 1176.66,1149.98" fill="#FF8800"/>
<path d="M996.2 1745.17L1000.1 1736.23M1009.1 1709.82L1017 1678.18M1022 1650.69L1033.8 1548.31M1036.16 1520.42L1049.44 1274.48M1053.07 1246.8L1062.53 1201.7" stroke="#FF8800" stroke-width="6" fill="none" stroke-linecap="round"/>
<polygon points="1185.8,1147.2 1196.3,1151.9 1196.3,1163.1 1185.8,1167.8 1175.3,1163.1 1175.3,1151.9" fill="#FF8800"/><polygon points="1185.8,1150.5 1190.9,1153.9 1190.9,1161.1 1185.8,1164.5 1180.7,1161.1 1180.7,1153.9" fill="#fff"/><polygon points="1169.5,1147.9 1180,1152.6 1180,1163.8 1169.5,1168.5 1159,1163.8 1159,1152.6" fill="#FF8800"/><polygon points="1169.5,1151.2 1174.6,1154.6 1174.6,1161.8 1169.5,1165.2 1164.4,1161.8 1164.4,1154.6" fill="#fff"/><polygon points="1154.3,1148.4 1164.8,1153.1 1164.8,1164.3 1154.3,1169 1143.8,1164.3 1143.8,1153.1" fill="#FF8800"/><polygon points="1154.3,1151.7 1159.4,1155.1 1159.4,1162.3 1154.3,1165.7 1149.2,1162.3 1149.2,1155.1" fill="#fff"/><polygon points="1139,1149.6 1149.5,1154.3 1149.5,1165.5 1139,1170.2 1128.5,1165.5 1128.5,1154.3" fill="#FF8800"/><polygon points="1139,1152.9 1144.1,1156.3 1144.1,1163.5 1139,1166.9 1133.9,1163.5 1133.9,1156.3" fill="#fff"/><polygon points="1124.6,1150.7 1135.1,1155.4 1135.1,1166.6 1124.6,1171.3 1114.1,1166.6 1114.1,1155.4" fill="#FF8800"/><polygon points="1124.6,1154 1129.7,1157.4 1129.7,1164.6 1124.6,1168 1119.5,1164.6 1119.5,1157.4" fill="#fff"/><polygon points="1109.8,1153.1 1120.3,1157.8 1120.3,1169 1109.8,1173.7 1099.3,1169 1099.3,1157.8" fill="#FF8800"/><polygon points="1109.8,1156.4 1114.9,1159.8 1114.9,1167 1109.8,1170.4 1104.7,1167 1104.7,1159.8" fill="#fff"/><polygon points="1094.6,1156.6 1105.1,1161.3 1105.1,1172.5 1094.6,1177.2 1084.1,1172.5 1084.1,1161.3" fill="#FF8800"/><polygon points="1094.6,1159.9 1099.7,1163.3 1099.7,1170.5 1094.6,1173.9 1089.5,1170.5 1089.5,1163.3" fill="#fff"/><polygon points="1079.4,1163.6 1089.9,1168.3 1089.9,1179.5 1079.4,1184.2 1068.9,1179.5 1068.9,1168.3" fill="#FF8800"/><polygon points="1079.4,1166.9 1084.5,1170.3 1084.5,1177.5 1079.4,1180.9 1074.3,1177.5 1074.3,1170.3" fill="#fff"/><polygon points="1065.4,1177.7 1075.9,1182.4 1075.9,1193.6 1065.4,1198.3 1054.9,1193.6 1054.9,1182.4" fill="#FF8800"/><polygon points="1065.4,1181 1070.5,1184.4 1070.5,1191.6 1065.4,1195 1060.3,1191.6 1060.3,1184.4" fill="#fff"/><polygon points="1050.2,1250.2 1060.7,1254.9 1060.7,1266.1 1050.2,1270.8 1039.7,1266.1 1039.7,1254.9" fill="#FF8800"/><polygon points="1050.2,1253.5 1055.3,1256.9 1055.3,1264.1 1050.2,1267.5 1045.1,1264.1 1045.1,1256.9" fill="#fff"/><polygon points="1035.4,1524.1 1045.9,1528.8 1045.9,1540 1035.4,1544.7 1024.9,1540 1024.9,1528.8" fill="#FF8800"/><polygon points="1035.4,1527.4 1040.5,1530.8 1040.5,1538 1035.4,1541.4 1030.3,1538 1030.3,1530.8" fill="#fff"/><polygon points="1020.4,1654.3 1030.9,1659 1030.9,1670.2 1020.4,1674.9 1009.9,1670.2 1009.9,1659" fill="#FF8800"/><polygon points="1020.4,1657.6 1025.5,1661 1025.5,1668.2 1020.4,1671.6 1015.3,1668.2 1015.3,1661" fill="#fff"/><polygon points="1005.7,1713.1 1016.2,1717.8 1016.2,1729 1005.7,1733.7 995.2,1729 995.2,1717.8" fill="#FF8800"/><polygon points="1005.7,1716.4 1010.8,1719.8 1010.8,1727 1005.7,1730.4 1000.6,1727 1000.6,1719.8" fill="#fff"/><polygon points="990.6,1747.7 1001.1,1752.4 1001.1,1763.6 990.6,1768.3 980.1,1763.6 980.1,1752.4" fill="#FF8800"/><polygon points="990.6,1751 995.7,1754.4 995.7,1761.6 990.6,1765 985.5,1761.6 985.5,1754.4" fill="#fff"/><polygon points="976.5,1760.8 987,1765.5 987,1776.7 976.5,1781.4 966,1776.7 966,1765.5" fill="#FF8800"/><polygon points="976.5,1764.1 981.6,1767.5 981.6,1774.7 976.5,1778.1 971.4,1774.7 971.4,1767.5" fill="#fff"/><polygon points="961.5,1772.8 972,1777.5 972,1788.7 961.5,1793.4 951,1788.7 951,1777.5" fill="#FF8800"/><polygon points="961.5,1776.1 966.6,1779.5 966.6,1786.7 961.5,1790.1 956.4,1786.7 956.4,1779.5" fill="#fff"/><polygon points="946.9,1782.2 957.4,1786.9 957.4,1798.1 946.9,1802.8 936.4,1798.1 936.4,1786.9" fill="#FF8800"/><polygon points="946.9,1785.5 952,1788.9 952,1796.1 946.9,1799.5 941.8,1796.1 941.8,1788.9" fill="#fff"/><polygon points="931.4,1783.8 941.9,1788.5 941.9,1799.7 931.4,1804.4 920.9,1799.7 920.9,1788.5" fill="#FF8800"/><polygon points="931.4,1787.1 936.5,1790.5 936.5,1797.7 931.4,1801.1 926.3,1797.7 926.3,1790.5" fill="#fff"/><polygon points="916.8,1788.2 927.3,1792.9 927.3,1804.1 916.8,1808.8 906.3,1804.1 906.3,1792.9" fill="#FF8800"/><polygon points="916.8,1791.5 921.9,1794.9 921.9,1802.1 916.8,1805.5 911.7,1802.1 911.7,1794.9" fill="#fff"/><polygon points="902.4,1792.9 912.9,1797.6 912.9,1808.8 902.4,1813.5 891.9,1808.8 891.9,1797.6" fill="#FF8800"/><polygon points="902.4,1796.2 907.5,1799.6 907.5,1806.8 902.4,1810.2 897.3,1806.8 897.3,1799.6" fill="#fff"/><polygon points="887.55,1793.86 898.05,1798.56 898.05,1809.76 887.55,1814.46 877.05,1809.76 877.05,1798.56" fill="#FF8800"/><polygon points="887.55,1797.16 892.65,1800.56 892.65,1807.76 887.55,1811.16 882.45,1807.76 882.45,1800.56" fill="#fff"/><polygon points="872.69,1795.2 883.19,1799.9 883.19,1811.1 872.69,1815.8 862.19,1811.1 862.19,1799.9" fill="#FF8800"/><polygon points="872.69,1798.5 877.79,1801.9 877.79,1809.1 872.69,1812.5 867.59,1809.1 867.59,1801.9" fill="#fff"/><polygon points="857.84,1796.55 868.34,1801.25 868.34,1812.45 857.84,1817.15 847.34,1812.45 847.34,1801.25" fill="#FF8800"/><polygon points="857.84,1799.85 862.94,1803.25 862.94,1810.45 857.84,1813.85 852.74,1810.45 852.74,1803.25" fill="#fff"/><polygon points="842.99,1797.9 853.49,1802.6 853.49,1813.8 842.99,1818.5 832.49,1813.8 832.49,1802.6" fill="#FF8800"/><polygon points="842.99,1801.2 848.09,1804.6 848.09,1811.8 842.99,1815.2 837.89,1811.8 837.89,1804.6" fill="#fff"/><polygon points="828.14,1798.5 838.64,1803.2 838.64,1814.4 828.14,1819.1 817.64,1814.4 817.64,1803.2" fill="#FF8800"/><polygon points="828.14,1801.8 833.24,1805.2 833.24,1812.4 828.14,1815.8 823.04,1812.4 823.04,1805.2" fill="#fff"/><polygon points="813.28,1799.1 823.78,1803.8 823.78,1815 813.28,1819.7 802.78,1815 802.78,1803.8" fill="#FF8800"/><polygon points="813.28,1802.4 818.38,1805.8 818.38,1813 813.28,1816.4 808.18,1813 808.18,1805.8" fill="#fff"/><polygon points="798.43,1799.71 808.93,1804.41 808.93,1815.61 798.43,1820.31 787.93,1815.61 787.93,1804.41" fill="#FF8800"/><polygon points="798.43,1803.01 803.53,1806.41 803.53,1813.61 798.43,1817.01 793.33,1813.61 793.33,1806.41" fill="#fff"/><polygon points="783.58,1800.31 794.08,1805.01 794.08,1816.21 783.58,1820.91 773.08,1816.21 773.08,1805.01" fill="#FF8800"/><polygon points="783.58,1803.61 788.68,1807.01 788.68,1814.21 783.58,1817.61 778.48,1814.21 778.48,1807.01" fill="#fff"/><polygon points="768.73,1800.9 779.23,1805.6 779.23,1816.8 768.73,1821.5 758.23,1816.8 758.23,1805.6" fill="#FF8800"/><polygon points="768.73,1804.2 773.83,1807.6 773.83,1814.8 768.73,1818.2 763.63,1814.8 763.63,1807.6" fill="#fff"/><polygon points="753.87,1800.93 764.37,1805.63 764.37,1816.83 753.87,1821.53 743.37,1816.83 743.37,1805.63" fill="#FF8800"/><polygon points="753.87,1804.23 758.97,1807.63 758.97,1814.83 753.87,1818.23 748.77,1814.83 748.77,1807.63" fill="#fff"/><polygon points="739.02,1800.97 749.52,1805.67 749.52,1816.87 739.02,1821.57 728.52,1816.87 728.52,1805.67" fill="#FF8800"/><polygon points="739.02,1804.27 744.12,1807.67 744.12,1814.87 739.02,1818.27 733.92,1814.87 733.92,1807.67" fill="#fff"/><polygon points="724.17,1801 734.67,1805.7 734.67,1816.9 724.17,1821.6 713.67,1816.9 713.67,1805.7" fill="#FF8800"/><polygon points="724.17,1804.3 729.27,1807.7 729.27,1814.9 724.17,1818.3 719.07,1814.9 719.07,1807.7" fill="#fff"/><polygon points="709.32,1801.03 719.82,1805.73 719.82,1816.93 709.32,1821.63 698.82,1816.93 698.82,1805.73" fill="#FF8800"/><polygon points="709.32,1804.33 714.42,1807.73 714.42,1814.93 709.32,1818.33 704.22,1814.93 704.22,1807.73" fill="#fff"/><polygon points="694.46,1801.07 704.96,1805.77 704.96,1816.97 694.46,1821.67 683.96,1816.97 683.96,1805.77" fill="#FF8800"/><polygon points="694.46,1804.37 699.56,1807.77 699.56,1814.97 694.46,1818.37 689.36,1814.97 689.36,1807.77" fill="#fff"/><polygon points="679.61,1801.1 690.11,1805.8 690.11,1817 679.61,1821.7 669.11,1817 669.11,1805.8" fill="#FF8800"/><polygon points="679.61,1804.4 684.71,1807.8 684.71,1815 679.61,1818.4 674.51,1815 674.51,1807.8" fill="#fff"/><polygon points="664.76,1801.17 675.26,1805.87 675.26,1817.07 664.76,1821.77 654.26,1817.07 654.26,1805.87" fill="#FF8800"/><polygon points="664.76,1804.47 669.86,1807.87 669.86,1815.07 664.76,1818.47 659.66,1815.07 659.66,1807.87" fill="#fff"/><polygon points="649.91,1801.25 660.41,1805.95 660.41,1817.15 649.91,1821.85 639.41,1817.15 639.41,1805.95" fill="#FF8800"/><polygon points="649.91,1804.55 655.01,1807.95 655.01,1815.15 649.91,1818.55 644.81,1815.15 644.81,1807.95" fill="#fff"/><polygon points="635.05,1801.32 645.55,1806.02 645.55,1817.22 635.05,1821.92 624.55,1817.22 624.55,1806.02" fill="#FF8800"/><polygon points="635.05,1804.62 640.15,1808.02 640.15,1815.22 635.05,1818.62 629.95,1815.22 629.95,1808.02" fill="#fff"/><polygon points="620.2,1801.39 630.7,1806.09 630.7,1817.29 620.2,1821.99 609.7,1817.29 609.7,1806.09" fill="#FF8800"/><polygon points="620.2,1804.69 625.3,1808.09 625.3,1815.29 620.2,1818.69 615.1,1815.29 615.1,1808.09" fill="#fff"/><polygon points="605.35,1801.46 615.85,1806.16 615.85,1817.36 605.35,1822.06 594.85,1817.36 594.85,1806.16" fill="#FF8800"/><polygon points="605.35,1804.76 610.45,1808.16 610.45,1815.36 605.35,1818.76 600.25,1815.36 600.25,1808.16" fill="#fff"/><polygon points="590.49,1801.54 600.99,1806.24 600.99,1817.44 590.49,1822.14 579.99,1817.44 579.99,1806.24" fill="#FF8800"/><polygon points="590.49,1804.84 595.59,1808.24 595.59,1815.44 590.49,1818.84 585.39,1815.44 585.39,1808.24" fill="#fff"/><polygon points="575.64,1801.61 586.14,1806.31 586.14,1817.51 575.64,1822.21 565.14,1817.51 565.14,1806.31" fill="#FF8800"/><polygon points="575.64,1804.91 580.74,1808.31 580.74,1815.51 575.64,1818.91 570.54,1815.51 570.54,1808.31" fill="#fff"/><polygon points="560.79,1801.68 571.29,1806.38 571.29,1817.58 560.79,1822.28 550.29,1817.58 550.29,1806.38" fill="#FF8800"/><polygon points="560.79,1804.98 565.89,1808.38 565.89,1815.58 560.79,1818.98 555.69,1815.58 555.69,1808.38" fill="#fff"/><polygon points="545.94,1801.76 556.44,1806.46 556.44,1817.66 545.94,1822.36 535.44,1817.66 535.44,1806.46" fill="#FF8800"/><polygon points="545.94,1805.06 551.04,1808.46 551.04,1815.66 545.94,1819.06 540.84,1815.66 540.84,1808.46" fill="#fff"/><polygon points="531.08,1801.83 541.58,1806.53 541.58,1817.73 531.08,1822.43 520.58,1817.73 520.58,1806.53" fill="#FF8800"/><polygon points="531.08,1805.13 536.18,1808.53 536.18,1815.73 531.08,1819.13 525.98,1815.73 525.98,1808.53" fill="#fff"/><polygon points="516.23,1801.9 526.73,1806.6 526.73,1817.8 516.23,1822.5 505.73,1817.8 505.73,1806.6" fill="#FF8800"/><polygon points="516.23,1805.2 521.33,1808.6 521.33,1815.8 516.23,1819.2 511.13,1815.8 511.13,1808.6" fill="#fff"/><polygon points="501.38,1801.97 511.88,1806.67 511.88,1817.87 501.38,1822.57 490.88,1817.87 490.88,1806.67" fill="#FF8800"/><polygon points="501.38,1805.27 506.48,1808.67 506.48,1815.87 501.38,1819.27 496.28,1815.87 496.28,1808.67" fill="#fff"/><polygon points="486.53,1802.05 497.03,1806.75 497.03,1817.95 486.53,1822.65 476.03,1817.95 476.03,1806.75" fill="#FF8800"/><polygon points="486.53,1805.35 491.63,1808.75 491.63,1815.95 486.53,1819.35 481.43,1815.95 481.43,1808.75" fill="#fff"/><polygon points="471.67,1802.12 482.17,1806.82 482.17,1818.02 471.67,1822.72 461.17,1818.02 461.17,1806.82" fill="#FF8800"/><polygon points="471.67,1805.42 476.77,1808.82 476.77,1816.02 471.67,1819.42 466.57,1816.02 466.57,1808.82" fill="#fff"/><polygon points="456.82,1802.19 467.32,1806.89 467.32,1818.09 456.82,1822.79 446.32,1818.09 446.32,1806.89" fill="#FF8800"/><polygon points="456.82,1805.49 461.92,1808.89 461.92,1816.09 456.82,1819.49 451.72,1816.09 451.72,1808.89" fill="#fff"/><polygon points="441.97,1802.03 452.47,1806.73 452.47,1817.93 441.97,1822.63 431.47,1817.93 431.47,1806.73" fill="#FF8800"/><polygon points="441.97,1805.33 447.07,1808.73 447.07,1815.93 441.97,1819.33 436.87,1815.93 436.87,1808.73" fill="#fff"/><polygon points="427.12,1801.84 437.62,1806.54 437.62,1817.74 427.12,1822.44 416.62,1817.74 416.62,1806.54" fill="#FF8800"/><polygon points="427.12,1805.14 432.22,1808.54 432.22,1815.74 427.12,1819.14 422.02,1815.74 422.02,1808.54" fill="#fff"/><polygon points="412.26,1801.65 422.76,1806.35 422.76,1817.55 412.26,1822.25 401.76,1817.55 401.76,1806.35" fill="#FF8800"/><polygon points="412.26,1804.95 417.36,1808.35 417.36,1815.55 412.26,1818.95 407.16,1815.55 407.16,1808.35" fill="#fff"/><polygon points="397.41,1801.46 407.91,1806.16 407.91,1817.36 397.41,1822.06 386.91,1817.36 386.91,1806.16" fill="#FF8800"/><polygon points="397.41,1804.76 402.51,1808.16 402.51,1815.36 397.41,1818.76 392.31,1815.36 392.31,1808.16" fill="#fff"/><polygon points="382.56,1801.27 393.06,1805.97 393.06,1817.17 382.56,1821.87 372.06,1817.17 372.06,1805.97" fill="#FF8800"/><polygon points="382.56,1804.57 387.66,1807.97 387.66,1815.17 382.56,1818.57 377.46,1815.17 377.46,1807.97" fill="#fff"/><polygon points="367.71,1801.08 378.21,1805.78 378.21,1816.98 367.71,1821.68 357.21,1816.98 357.21,1805.78" fill="#FF8800"/><polygon points="367.71,1804.38 372.81,1807.78 372.81,1814.98 367.71,1818.38 362.61,1814.98 362.61,1807.78" fill="#fff"/><polygon points="352.85,1800.89 363.35,1805.59 363.35,1816.79 352.85,1821.49 342.35,1816.79 342.35,1805.59" fill="#FF8800"/><polygon points="352.85,1804.19 357.95,1807.59 357.95,1814.79 352.85,1818.19 347.75,1814.79 347.75,1807.59" fill="#fff"/><polygon points="338,1800.7 348.5,1805.4 348.5,1816.6 338,1821.3 327.5,1816.6 327.5,1805.4" fill="#FF8800"/><polygon points="338,1804 343.1,1807.4 343.1,1814.6 338,1818 332.9,1814.6 332.9,1807.4" fill="#fff"/><polygon points="323.5,1799.7 334,1804.4 334,1815.6 323.5,1820.3 313,1815.6 313,1804.4" fill="#FF8800"/><polygon points="323.5,1803 328.6,1806.4 328.6,1813.6 323.5,1817 318.4,1813.6 318.4,1806.4" fill="#fff"/><polygon points="310.4,1794.7 320.9,1799.4 320.9,1810.6 310.4,1815.3 299.9,1810.6 299.9,1799.4" fill="#FF8800"/><polygon points="310.4,1798 315.5,1801.4 315.5,1808.6 310.4,1812 305.3,1808.6 305.3,1801.4" fill="#fff"/>
<path d="M925 1731L1147 1706" stroke="#000" stroke-width="2" stroke-linecap="butt" stroke-dasharray="4 3 1.5 3" fill="none"/>
<path d="M1095 1609L1077 1790" stroke="#000" stroke-width="2.2" stroke-linecap="butt" stroke-dasharray="3 3" fill="none"/>
<path d="M1084.6 1641.2L1040.7 1860" stroke="#000" stroke-width="1.2" stroke-linecap="butt" fill="none"/>
<path d="M827 1830.3L1082 1806.2" stroke="#000" stroke-width="1.2" stroke-linecap="butt" fill="none"/>
<path d="M290.5 2913V2065.5H1341.5V2913" fill="none" stroke="#000" stroke-width="3" stroke-linejoin="miter"/>
<path d="M289 2911.5H1343" stroke="#000" stroke-width="3"/>
<path d="M290.5 2913V2928M438.5 2913V2928M586.5 2913V2928M734.5 2913V2928M882.5 2913V2928M1030.5 2913V2928M1178.5 2913V2928M1326.5 2913V2928M364.5 2913V2921M512.5 2913V2921M660.5 2913V2921M808.5 2913V2921M956.5 2913V2921M1104.5 2913V2921M1252.5 2913V2921" stroke="#000" stroke-width="2.5"/>
<path d="M291.8 2781.7H307.3M291.8 2651.5H307.3M291.8 2521.3H307.3M291.8 2391.1H307.3M291.8 2260.9H307.3M291.8 2130.7H307.3M291.8 2846.8H299.8M291.8 2716.6H299.8M291.8 2586.4H299.8M291.8 2456.2H299.8M291.8 2326H299.8M291.8 2195.8H299.8" stroke="#000" stroke-width="2.5"/>
<g transform="translate(276.59 2969.76) scale(1.0000 1)"><text font-size="50.14" fill="#000" stroke="#000" stroke-width="0.7">0</text></g>
<g transform="translate(410.87 2969.76) scale(1.0000 1)"><text font-size="50.14" fill="#000" stroke="#000" stroke-width="0.7">50</text></g>
<g transform="translate(544.41 2969.76) scale(1.0000 1)"><text font-size="50.14" fill="#000" stroke="#000" stroke-width="0.7"> 00</text><path d="M450 0L450 1120L105 945L105 1175L505 1430L775 1430L775 0Z" fill="#000" stroke="#000" stroke-width="28.59" transform="translate(0 0) scale(0.02448 -0.02448)"/></g>
<g transform="translate(692.41 2969.76) scale(1.0000 1)"><text font-size="50.14" fill="#000" stroke="#000" stroke-width="0.7"> 50</text><path d="M450 0L450 1120L105 945L105 1175L505 1430L775 1430L775 0Z" fill="#000" stroke="#000" stroke-width="28.59" transform="translate(0 0) scale(0.02448 -0.02448)"/></g>
<g transform="translate(840.83 2969.76) scale(1.0000 1)"><text font-size="50.14" fill="#000" stroke="#000" stroke-width="0.7">200</text></g>
<g transform="translate(988.83 2969.76) scale(1.0000 1)"><text font-size="50.14" fill="#000" stroke="#000" stroke-width="0.7">250</text></g>
<g transform="translate(1137.21 2969.69) scale(1.0000 1)"><text font-size="50.04" fill="#000" stroke="#000" stroke-width="0.7">300</text></g>
<g transform="translate(1285.21 2969.69) scale(1.0000 1)"><text font-size="50.04" fill="#000" stroke="#000" stroke-width="0.7">350</text></g>
<g transform="translate(180.35 2784.86) scale(1.0132 1)"><text font-size="49.86" fill="#000" stroke="#000" stroke-width="0.7">0.02</text></g>
<g transform="translate(180.36 2654.59) scale(1.0132 1)"><text font-size="49.76" fill="#000" stroke="#000" stroke-width="0.7">0.03</text></g>
<g transform="translate(180.39 2524.46) scale(0.9947 1)"><text font-size="49.86" fill="#000" stroke="#000" stroke-width="0.7">0.04</text></g>
<g transform="translate(180.36 2394.26) scale(1.0066 1)"><text font-size="49.86" fill="#000" stroke="#000" stroke-width="0.7">0.05</text></g>
<g transform="translate(180.36 2264.06) scale(1.0111 1)"><text font-size="49.86" fill="#000" stroke="#000" stroke-width="0.7">0.06</text></g>
<g transform="translate(180.35 2133.86) scale(1.0153 1)"><text font-size="49.86" fill="#000" stroke="#000" stroke-width="0.7">0.07</text></g>
<g transform="translate(180.33 2913.96) scale(1.0226 1)"><text font-size="50" fill="#000" stroke="#000" stroke-width="0.7">0.0 </text><path d="M450 0L450 1120L105 945L105 1175L505 1430L775 1430L775 0Z" fill="#000" stroke="#000" stroke-width="28.67" transform="translate(69.51 0) scale(0.02441 -0.02441)"/></g>
<g transform="translate(607.44 3028.45) scale(0.9646 1)"><text font-size="55.96" fill="#000" stroke="#000" stroke-width="0.7">Temperature (K)</text></g>
<text transform="translate(140.65 2676.06) rotate(-90) scale(0.9758 1)" font-size="56.32" stroke="#000" stroke-width="0.7"><tspan>M (Am</tspan><tspan dy="-33.4">2</tspan><tspan dy="33.4">/Kg)</tspan></text>
<g transform="translate(359.55 2138.36) scale(1.0266 1)"><text font-size="52.46" fill="#000" stroke="#000" stroke-width="0.7">c)</text></g>
<g transform="translate(479 2214.25) scale(1.0021 1)"><text font-size="54.36" fill="#000" stroke="#000" stroke-width="0.7">0.02 T</text></g>
<g transform="translate(772.59 2248.35) scale(0.9632 1)"><text font-size="55.23" fill="#000" stroke="#000" stroke-width="0.7">FC</text></g>
<path d="M904.2 2268.2L738 2267.42" stroke="#000" stroke-width="6" stroke-linecap="round"/>
<polygon points="690,2267.2 740.06,2253.93 739.94,2280.93" fill="#000" stroke="#000" stroke-width="2" stroke-linejoin="round"/>
<g transform="translate(360.33 2883.25) scale(0.9643 1)"><text font-size="56.4" fill="#000" stroke="#000" stroke-width="0.7">ZFC</text></g>
<path d="M349.2 2814.8L521.1 2814.8" stroke="#000" stroke-width="6" stroke-linecap="round"/>
<polygon points="569.1,2814.8 519.1,2827.8 519.1,2801.8" fill="#000" stroke="#000" stroke-width="2" stroke-linejoin="round"/>
<g transform="translate(1230.93 2281.55) scale(0.9631 1)"><text font-size="55.01" fill="#FF0080" stroke="#FF0080" stroke-width="0.7"> 2h</text><path d="M450 0L450 1120L105 945L105 1175L505 1430L775 1430L775 0Z" fill="#FF0080" stroke="#FF0080" stroke-width="26.06" transform="translate(0 0) scale(0.02686 -0.02686)"/></g>
<g transform="translate(1251.66 2510.65) scale(0.9730 1)"><text font-size="54.87" fill="#9900FF" stroke="#9900FF" stroke-width="0.7">8h</text></g>
<g transform="translate(1257.35 2652.45) scale(0.9657 1)"><text font-size="54.73" fill="#00FF00" stroke="#00FF00" stroke-width="0.7">4h</text></g>
<g transform="translate(1256.17 2777.85) scale(0.9833 1)"><text font-size="55.01" fill="#0000FF" stroke="#0000FF" stroke-width="0.7">2h</text></g>
<g transform="translate(1034.77 2866.45) scale(0.9292 1)"><text font-size="55.38" fill="#000" stroke="#000" stroke-width="0.7">T</text></g>
<g transform="translate(1067.36 2881.45) scale(0.9617 1)"><text font-size="47.97" fill="#000" stroke="#000" stroke-width="0.7">Morin</text></g>
<path d="M1121.8 2832L1067.04 2781.09" stroke="#000" stroke-width="5.5" stroke-linecap="round"/>
<polygon points="1043.6,2759.3 1075.65,2774.76 1061.35,2790.14" fill="#000" stroke="#000" stroke-width="2" stroke-linejoin="round"/>
<path d="M310.44 2256.79L316.96 2265.11M328.38 2276.09L331.32 2278.21M344.71 2286.93L345.99 2287.67" stroke="#FF0080" stroke-width="1.3" fill="none" stroke-linecap="round"/>
<circle cx="305.5" cy="2250.5" r="6.3" fill="#FF0080"/><circle cx="321.9" cy="2271.4" r="6.3" fill="#FF0080"/><circle cx="337.8" cy="2282.9" r="6.3" fill="#FF0080"/><circle cx="352.9" cy="2291.7" r="6.3" fill="#FF0080"/><circle cx="367.5" cy="2298.4" r="6.3" fill="#FF0080"/><circle cx="381.7" cy="2304.6" r="6.3" fill="#FF0080"/><circle cx="396.3" cy="2311.2" r="6.3" fill="#FF0080"/><circle cx="411.8" cy="2314.7" r="6.3" fill="#FF0080"/><circle cx="426.4" cy="2317.8" r="6.3" fill="#FF0080"/><circle cx="441.4" cy="2321.4" r="6.3" fill="#FF0080"/><circle cx="456" cy="2323.6" r="6.3" fill="#FF0080"/><circle cx="470.6" cy="2325.8" r="6.3" fill="#FF0080"/><circle cx="485.7" cy="2328" r="6.3" fill="#FF0080"/><circle cx="500.3" cy="2329.4" r="6.3" fill="#FF0080"/><circle cx="515.1" cy="2330.25" r="6.3" fill="#FF0080"/><circle cx="529.9" cy="2331.09" r="6.3" fill="#FF0080"/><circle cx="544.7" cy="2332.42" r="6.3" fill="#FF0080"/><circle cx="559.5" cy="2333.75" r="6.3" fill="#FF0080"/><circle cx="574.3" cy="2334.23" r="6.3" fill="#FF0080"/><circle cx="589.1" cy="2334.68" r="6.3" fill="#FF0080"/><circle cx="603.9" cy="2334.7" r="6.3" fill="#FF0080"/><circle cx="618.7" cy="2334.7" r="6.3" fill="#FF0080"/><circle cx="633.5" cy="2334.68" r="6.3" fill="#FF0080"/><circle cx="648.3" cy="2333.6" r="6.3" fill="#FF0080"/><circle cx="663.1" cy="2332.51" r="6.3" fill="#FF0080"/><circle cx="677.9" cy="2331.81" r="6.3" fill="#FF0080"/><circle cx="692.7" cy="2331.11" r="6.3" fill="#FF0080"/><circle cx="707.5" cy="2331.1" r="6.3" fill="#FF0080"/><circle cx="722.3" cy="2331.1" r="6.3" fill="#FF0080"/><circle cx="737.1" cy="2331.1" r="6.3" fill="#FF0080"/><circle cx="751.9" cy="2330.81" r="6.3" fill="#FF0080"/><circle cx="766.7" cy="2330.51" r="6.3" fill="#FF0080"/><circle cx="781.5" cy="2330.22" r="6.3" fill="#FF0080"/><circle cx="796.3" cy="2329.82" r="6.3" fill="#FF0080"/><circle cx="811.1" cy="2329.41" r="6.3" fill="#FF0080"/><circle cx="825.9" cy="2330" r="6.3" fill="#FF0080"/><circle cx="840.7" cy="2332.52" r="6.3" fill="#FF0080"/><circle cx="855.5" cy="2328.87" r="6.3" fill="#FF0080"/><circle cx="870.3" cy="2327.98" r="6.3" fill="#FF0080"/><circle cx="885.1" cy="2327.09" r="6.3" fill="#FF0080"/><circle cx="899.9" cy="2326.36" r="6.3" fill="#FF0080"/><circle cx="914.7" cy="2325.61" r="6.3" fill="#FF0080"/><circle cx="929.5" cy="2324.35" r="6.3" fill="#FF0080"/><circle cx="944.3" cy="2323.08" r="6.3" fill="#FF0080"/><circle cx="959.1" cy="2321.99" r="6.3" fill="#FF0080"/><circle cx="973.9" cy="2320.91" r="6.3" fill="#FF0080"/><circle cx="988.7" cy="2319.63" r="6.3" fill="#FF0080"/><circle cx="1003.5" cy="2318.35" r="6.3" fill="#FF0080"/><circle cx="1018.3" cy="2316.72" r="6.3" fill="#FF0080"/><circle cx="1033.1" cy="2315.09" r="6.3" fill="#FF0080"/><circle cx="1047.9" cy="2313.82" r="6.3" fill="#FF0080"/><circle cx="1062.7" cy="2312.55" r="6.3" fill="#FF0080"/><circle cx="1077.5" cy="2311.51" r="6.3" fill="#FF0080"/><circle cx="1092.3" cy="2310.47" r="6.3" fill="#FF0080"/><circle cx="1107.1" cy="2309.04" r="6.3" fill="#FF0080"/><circle cx="1121.9" cy="2307.61" r="6.3" fill="#FF0080"/><circle cx="1136.7" cy="2306.67" r="6.3" fill="#FF0080"/><circle cx="1151.5" cy="2305.73" r="6.3" fill="#FF0080"/><circle cx="1166.3" cy="2305.11" r="6.3" fill="#FF0080"/><circle cx="1181.1" cy="2304.5" r="6.3" fill="#FF0080"/><circle cx="1195.9" cy="2303.88" r="6.3" fill="#FF0080"/><circle cx="1210.7" cy="2303.27" r="6.3" fill="#FF0080"/><circle cx="1225.5" cy="2302.68" r="6.3" fill="#FF0080"/><circle cx="1240.3" cy="2302.08" r="6.3" fill="#FF0080"/><circle cx="1255.1" cy="2301.29" r="6.3" fill="#FF0080"/><circle cx="1269.9" cy="2300.51" r="6.3" fill="#FF0080"/><circle cx="1284.7" cy="2299.77" r="6.3" fill="#FF0080"/><circle cx="1299.5" cy="2299.03" r="6.3" fill="#FF0080"/><circle cx="1314.3" cy="2299" r="6.3" fill="#FF0080"/>
<path d="M309.02 2137.18L313.98 2147.32M322.04 2161.09L326.66 2167.81M336.37 2180.5L341.03 2186M352.11 2197.49L354.89 2200.01M367.29 2210.08L369.01 2211.32M382.38 2220.08L383.62 2220.82M397.63 2228.53L398.87 2229.17" stroke="#FF0080" stroke-width="1.3" fill="none" stroke-linecap="round"/>
<circle cx="1323" cy="2298.93" r="5" fill="#fff" stroke="#FF0080" stroke-width="2.6"/><circle cx="1308.2" cy="2298.65" r="5" fill="#fff" stroke="#FF0080" stroke-width="2.6"/><circle cx="1293.4" cy="2298.37" r="5" fill="#fff" stroke="#FF0080" stroke-width="2.6"/><circle cx="1278.6" cy="2298.06" r="5" fill="#fff" stroke="#FF0080" stroke-width="2.6"/><circle cx="1263.8" cy="2296.7" r="5" fill="#fff" stroke="#FF0080" stroke-width="2.6"/><circle cx="1249" cy="2296.45" r="5" fill="#fff" stroke="#FF0080" stroke-width="2.6"/><circle cx="1234.2" cy="2296.2" r="5" fill="#fff" stroke="#FF0080" stroke-width="2.6"/><circle cx="1219.4" cy="2295.95" r="5" fill="#fff" stroke="#FF0080" stroke-width="2.6"/><circle cx="1204.6" cy="2295.68" r="5" fill="#fff" stroke="#FF0080" stroke-width="2.6"/><circle cx="1189.8" cy="2294.99" r="5" fill="#fff" stroke="#FF0080" stroke-width="2.6"/><circle cx="1175" cy="2294.3" r="5" fill="#fff" stroke="#FF0080" stroke-width="2.6"/><circle cx="1160.2" cy="2293.79" r="5" fill="#fff" stroke="#FF0080" stroke-width="2.6"/><circle cx="1145.4" cy="2293.3" r="5" fill="#fff" stroke="#FF0080" stroke-width="2.6"/><circle cx="1130.6" cy="2293.26" r="5" fill="#fff" stroke="#FF0080" stroke-width="2.6"/><circle cx="1115.8" cy="2293.22" r="5" fill="#fff" stroke="#FF0080" stroke-width="2.6"/><circle cx="1101" cy="2293.18" r="5" fill="#fff" stroke="#FF0080" stroke-width="2.6"/><circle cx="1086.2" cy="2293.14" r="5" fill="#fff" stroke="#FF0080" stroke-width="2.6"/><circle cx="1071.4" cy="2293.1" r="5" fill="#fff" stroke="#FF0080" stroke-width="2.6"/><circle cx="1056.6" cy="2292.51" r="5" fill="#fff" stroke="#FF0080" stroke-width="2.6"/><circle cx="1041.8" cy="2291.91" r="5" fill="#fff" stroke="#FF0080" stroke-width="2.6"/><circle cx="1027" cy="2291.3" r="5" fill="#fff" stroke="#FF0080" stroke-width="2.6"/><circle cx="1012.2" cy="2291.46" r="5" fill="#fff" stroke="#FF0080" stroke-width="2.6"/><circle cx="997.4" cy="2291.63" r="5" fill="#fff" stroke="#FF0080" stroke-width="2.6"/><circle cx="982.6" cy="2291.79" r="5" fill="#fff" stroke="#FF0080" stroke-width="2.6"/><circle cx="967.8" cy="2291.86" r="5" fill="#fff" stroke="#FF0080" stroke-width="2.6"/><circle cx="953" cy="2291.93" r="5" fill="#fff" stroke="#FF0080" stroke-width="2.6"/><circle cx="938.2" cy="2292" r="5" fill="#fff" stroke="#FF0080" stroke-width="2.6"/><circle cx="923.4" cy="2292.2" r="5" fill="#fff" stroke="#FF0080" stroke-width="2.6"/><circle cx="908.6" cy="2292.4" r="5" fill="#fff" stroke="#FF0080" stroke-width="2.6"/><circle cx="893.8" cy="2292.61" r="5" fill="#fff" stroke="#FF0080" stroke-width="2.6"/><circle cx="879" cy="2293.45" r="5" fill="#fff" stroke="#FF0080" stroke-width="2.6"/><circle cx="864.2" cy="2294.29" r="5" fill="#fff" stroke="#FF0080" stroke-width="2.6"/><circle cx="849.4" cy="2294.44" r="5" fill="#fff" stroke="#FF0080" stroke-width="2.6"/><circle cx="834.6" cy="2294.58" r="5" fill="#fff" stroke="#FF0080" stroke-width="2.6"/><circle cx="819.8" cy="2294.72" r="5" fill="#fff" stroke="#FF0080" stroke-width="2.6"/><circle cx="805" cy="2294.86" r="5" fill="#fff" stroke="#FF0080" stroke-width="2.6"/><circle cx="790.2" cy="2295" r="5" fill="#fff" stroke="#FF0080" stroke-width="2.6"/><circle cx="775.4" cy="2294.93" r="5" fill="#fff" stroke="#FF0080" stroke-width="2.6"/><circle cx="760.6" cy="2294.87" r="5" fill="#fff" stroke="#FF0080" stroke-width="2.6"/><circle cx="745.8" cy="2294.79" r="5" fill="#fff" stroke="#FF0080" stroke-width="2.6"/><circle cx="731" cy="2293.7" r="5" fill="#fff" stroke="#FF0080" stroke-width="2.6"/><circle cx="716.2" cy="2292.61" r="5" fill="#fff" stroke="#FF0080" stroke-width="2.6"/><circle cx="701.4" cy="2291.96" r="5" fill="#fff" stroke="#FF0080" stroke-width="2.6"/><circle cx="686.6" cy="2291.31" r="5" fill="#fff" stroke="#FF0080" stroke-width="2.6"/><circle cx="671.8" cy="2290.19" r="5" fill="#fff" stroke="#FF0080" stroke-width="2.6"/><circle cx="657" cy="2289.03" r="5" fill="#fff" stroke="#FF0080" stroke-width="2.6"/><circle cx="642.2" cy="2286.81" r="5" fill="#fff" stroke="#FF0080" stroke-width="2.6"/><circle cx="627.4" cy="2284.6" r="5" fill="#fff" stroke="#FF0080" stroke-width="2.6"/><circle cx="612.6" cy="2283.5" r="5" fill="#fff" stroke="#FF0080" stroke-width="2.6"/><circle cx="597.8" cy="2282.41" r="5" fill="#fff" stroke="#FF0080" stroke-width="2.6"/><circle cx="583" cy="2279.77" r="5" fill="#fff" stroke="#FF0080" stroke-width="2.6"/><circle cx="568.2" cy="2277.12" r="5" fill="#fff" stroke="#FF0080" stroke-width="2.6"/><circle cx="553.4" cy="2274.17" r="5" fill="#fff" stroke="#FF0080" stroke-width="2.6"/><circle cx="538.6" cy="2271.44" r="5" fill="#fff" stroke="#FF0080" stroke-width="2.6"/><circle cx="523.8" cy="2269.6" r="5" fill="#fff" stroke="#FF0080" stroke-width="2.6"/><circle cx="509.2" cy="2267.4" r="5" fill="#fff" stroke="#FF0080" stroke-width="2.6"/><circle cx="494.6" cy="2264.7" r="5" fill="#fff" stroke="#FF0080" stroke-width="2.6"/><circle cx="479.5" cy="2260.3" r="5" fill="#fff" stroke="#FF0080" stroke-width="2.6"/><circle cx="464.9" cy="2255.9" r="5" fill="#fff" stroke="#FF0080" stroke-width="2.6"/><circle cx="449.4" cy="2251.4" r="5" fill="#fff" stroke="#FF0080" stroke-width="2.6"/><circle cx="434.8" cy="2246.1" r="5" fill="#fff" stroke="#FF0080" stroke-width="2.6"/><circle cx="419.7" cy="2240.4" r="5" fill="#fff" stroke="#FF0080" stroke-width="2.6"/><circle cx="406" cy="2232.8" r="5" fill="#fff" stroke="#FF0080" stroke-width="2.6"/><circle cx="390.5" cy="2224.9" r="5" fill="#fff" stroke="#FF0080" stroke-width="2.6"/><circle cx="375.5" cy="2216" r="5" fill="#fff" stroke="#FF0080" stroke-width="2.6"/><circle cx="360.8" cy="2205.4" r="5" fill="#fff" stroke="#FF0080" stroke-width="2.6"/><circle cx="346.2" cy="2192.1" r="5" fill="#fff" stroke="#FF0080" stroke-width="2.6"/><circle cx="331.2" cy="2174.4" r="5" fill="#fff" stroke="#FF0080" stroke-width="2.6"/><circle cx="317.5" cy="2154.5" r="5" fill="#fff" stroke="#FF0080" stroke-width="2.6"/><circle cx="305.5" cy="2130" r="5" fill="#fff" stroke="#FF0080" stroke-width="2.6"/>
<path d="M307.97 2347.15L313.83 2361.65M322.78 2377.06L326.22 2381.44M337.98 2395.04L340.82 2398.06M353.84 2410.45L354.76 2411.25" stroke="#9900FF" stroke-width="1.3" fill="none" stroke-linecap="round"/>
<polygon points="1323.5,2517.6 1330.7,2524.8 1323.5,2532 1316.3,2524.8" fill="#fff" stroke="#9900FF" stroke-width="2.4"/><polygon points="1308.7,2516.61 1315.9,2523.81 1308.7,2531.01 1301.5,2523.81" fill="#fff" stroke="#9900FF" stroke-width="2.4"/><polygon points="1293.9,2515.82 1301.1,2523.02 1293.9,2530.22 1286.7,2523.02" fill="#fff" stroke="#9900FF" stroke-width="2.4"/><polygon points="1279.1,2515.02 1286.3,2522.22 1279.1,2529.42 1271.9,2522.22" fill="#fff" stroke="#9900FF" stroke-width="2.4"/><polygon points="1264.3,2514.25 1271.5,2521.45 1264.3,2528.65 1257.1,2521.45" fill="#fff" stroke="#9900FF" stroke-width="2.4"/><polygon points="1249.5,2513.77 1256.7,2520.97 1249.5,2528.17 1242.3,2520.97" fill="#fff" stroke="#9900FF" stroke-width="2.4"/><polygon points="1234.7,2513.29 1241.9,2520.49 1234.7,2527.69 1227.5,2520.49" fill="#fff" stroke="#9900FF" stroke-width="2.4"/><polygon points="1219.9,2512.8 1227.1,2520 1219.9,2527.2 1212.7,2520" fill="#fff" stroke="#9900FF" stroke-width="2.4"/><polygon points="1205.1,2512.32 1212.3,2519.52 1205.1,2526.72 1197.9,2519.52" fill="#fff" stroke="#9900FF" stroke-width="2.4"/><polygon points="1190.3,2511.84 1197.5,2519.04 1190.3,2526.24 1183.1,2519.04" fill="#fff" stroke="#9900FF" stroke-width="2.4"/><polygon points="1175.5,2511.36 1182.7,2518.56 1175.5,2525.76 1168.3,2518.56" fill="#fff" stroke="#9900FF" stroke-width="2.4"/><polygon points="1160.7,2510.97 1167.9,2518.17 1160.7,2525.37 1153.5,2518.17" fill="#fff" stroke="#9900FF" stroke-width="2.4"/><polygon points="1145.9,2510.57 1153.1,2517.77 1145.9,2524.97 1138.7,2517.77" fill="#fff" stroke="#9900FF" stroke-width="2.4"/><polygon points="1131.1,2510.17 1138.3,2517.37 1131.1,2524.57 1123.9,2517.37" fill="#fff" stroke="#9900FF" stroke-width="2.4"/><polygon points="1116.3,2509.77 1123.5,2516.97 1116.3,2524.17 1109.1,2516.97" fill="#fff" stroke="#9900FF" stroke-width="2.4"/><polygon points="1101.5,2509.37 1108.7,2516.57 1101.5,2523.77 1094.3,2516.57" fill="#fff" stroke="#9900FF" stroke-width="2.4"/><polygon points="1086.7,2508.94 1093.9,2516.14 1086.7,2523.34 1079.5,2516.14" fill="#fff" stroke="#9900FF" stroke-width="2.4"/><polygon points="1071.9,2508.16 1079.1,2515.36 1071.9,2522.56 1064.7,2515.36" fill="#fff" stroke="#9900FF" stroke-width="2.4"/><polygon points="1057.1,2507.37 1064.3,2514.57 1057.1,2521.77 1049.9,2514.57" fill="#fff" stroke="#9900FF" stroke-width="2.4"/><polygon points="1042.3,2506.59 1049.5,2513.79 1042.3,2520.99 1035.1,2513.79" fill="#fff" stroke="#9900FF" stroke-width="2.4"/><polygon points="1027.5,2505.81 1034.7,2513.01 1027.5,2520.21 1020.3,2513.01" fill="#fff" stroke="#9900FF" stroke-width="2.4"/><polygon points="1012.7,2505.03 1019.9,2512.23 1012.7,2519.43 1005.5,2512.23" fill="#fff" stroke="#9900FF" stroke-width="2.4"/><polygon points="997.9,2504.27 1005.1,2511.47 997.9,2518.67 990.7,2511.47" fill="#fff" stroke="#9900FF" stroke-width="2.4"/><polygon points="983.1,2503.82 990.3,2511.02 983.1,2518.22 975.9,2511.02" fill="#fff" stroke="#9900FF" stroke-width="2.4"/><polygon points="968.3,2503.37 975.5,2510.57 968.3,2517.77 961.1,2510.57" fill="#fff" stroke="#9900FF" stroke-width="2.4"/><polygon points="953.5,2502.93 960.7,2510.13 953.5,2517.33 946.3,2510.13" fill="#fff" stroke="#9900FF" stroke-width="2.4"/><polygon points="938.7,2502.49 945.9,2509.69 938.7,2516.89 931.5,2509.69" fill="#fff" stroke="#9900FF" stroke-width="2.4"/><polygon points="923.9,2502.04 931.1,2509.24 923.9,2516.44 916.7,2509.24" fill="#fff" stroke="#9900FF" stroke-width="2.4"/><polygon points="909.1,2501.6 916.3,2508.8 909.1,2516 901.9,2508.8" fill="#fff" stroke="#9900FF" stroke-width="2.4"/><polygon points="894.3,2500.82 901.5,2508.02 894.3,2515.22 887.1,2508.02" fill="#fff" stroke="#9900FF" stroke-width="2.4"/><polygon points="879.5,2499.93 886.7,2507.13 879.5,2514.33 872.3,2507.13" fill="#fff" stroke="#9900FF" stroke-width="2.4"/><polygon points="864.7,2499.05 871.9,2506.25 864.7,2513.45 857.5,2506.25" fill="#fff" stroke="#9900FF" stroke-width="2.4"/><polygon points="849.9,2498.16 857.1,2505.36 849.9,2512.56 842.7,2505.36" fill="#fff" stroke="#9900FF" stroke-width="2.4"/><polygon points="835.1,2497.34 842.3,2504.54 835.1,2511.74 827.9,2504.54" fill="#fff" stroke="#9900FF" stroke-width="2.4"/><polygon points="820.3,2496.6 827.5,2503.8 820.3,2511 813.1,2503.8" fill="#fff" stroke="#9900FF" stroke-width="2.4"/><polygon points="805.5,2495.85 812.7,2503.05 805.5,2510.25 798.3,2503.05" fill="#fff" stroke="#9900FF" stroke-width="2.4"/><polygon points="790.7,2495.1 797.9,2502.3 790.7,2509.5 783.5,2502.3" fill="#fff" stroke="#9900FF" stroke-width="2.4"/><polygon points="775.9,2494.29 783.1,2501.49 775.9,2508.69 768.7,2501.49" fill="#fff" stroke="#9900FF" stroke-width="2.4"/><polygon points="761.1,2493.2 768.3,2500.4 761.1,2507.6 753.9,2500.4" fill="#fff" stroke="#9900FF" stroke-width="2.4"/><polygon points="746.3,2492.1 753.5,2499.3 746.3,2506.5 739.1,2499.3" fill="#fff" stroke="#9900FF" stroke-width="2.4"/><polygon points="731.5,2491.01 738.7,2498.21 731.5,2505.41 724.3,2498.21" fill="#fff" stroke="#9900FF" stroke-width="2.4"/><polygon points="716.7,2489.91 723.9,2497.11 716.7,2504.31 709.5,2497.11" fill="#fff" stroke="#9900FF" stroke-width="2.4"/><polygon points="701.9,2488.38 709.1,2495.58 701.9,2502.78 694.7,2495.58" fill="#fff" stroke="#9900FF" stroke-width="2.4"/><polygon points="687.1,2486.8 694.3,2494 687.1,2501.2 679.9,2494" fill="#fff" stroke="#9900FF" stroke-width="2.4"/><polygon points="672.3,2485.22 679.5,2492.42 672.3,2499.62 665.1,2492.42" fill="#fff" stroke="#9900FF" stroke-width="2.4"/><polygon points="657.5,2483.63 664.7,2490.83 657.5,2498.03 650.3,2490.83" fill="#fff" stroke="#9900FF" stroke-width="2.4"/><polygon points="642.7,2482.05 649.9,2489.25 642.7,2496.45 635.5,2489.25" fill="#fff" stroke="#9900FF" stroke-width="2.4"/><polygon points="627.9,2480.47 635.1,2487.67 627.9,2494.87 620.7,2487.67" fill="#fff" stroke="#9900FF" stroke-width="2.4"/><polygon points="613.1,2478.4 620.3,2485.6 613.1,2492.8 605.9,2485.6" fill="#fff" stroke="#9900FF" stroke-width="2.4"/><polygon points="598.3,2476.66 605.5,2483.86 598.3,2491.06 591.1,2483.86" fill="#fff" stroke="#9900FF" stroke-width="2.4"/><polygon points="583.5,2474.93 590.7,2482.13 583.5,2489.33 576.3,2482.13" fill="#fff" stroke="#9900FF" stroke-width="2.4"/><polygon points="568.7,2472.82 575.9,2480.02 568.7,2487.22 561.5,2480.02" fill="#fff" stroke="#9900FF" stroke-width="2.4"/><polygon points="553.9,2470.71 561.1,2477.91 553.9,2485.11 546.7,2477.91" fill="#fff" stroke="#9900FF" stroke-width="2.4"/><polygon points="539.1,2468.84 546.3,2476.04 539.1,2483.24 531.9,2476.04" fill="#fff" stroke="#9900FF" stroke-width="2.4"/><polygon points="524.3,2467.54 531.5,2474.74 524.3,2481.94 517.1,2474.74" fill="#fff" stroke="#9900FF" stroke-width="2.4"/><polygon points="509.5,2465.23 516.7,2472.43 509.5,2479.63 502.3,2472.43" fill="#fff" stroke="#9900FF" stroke-width="2.4"/><polygon points="494.7,2461.7 501.9,2468.9 494.7,2476.1 487.5,2468.9" fill="#fff" stroke="#9900FF" stroke-width="2.4"/><polygon points="479.5,2458.8 486.7,2466 479.5,2473.2 472.3,2466" fill="#fff" stroke="#9900FF" stroke-width="2.4"/><polygon points="464.9,2455 472.1,2462.2 464.9,2469.4 457.7,2462.2" fill="#fff" stroke="#9900FF" stroke-width="2.4"/><polygon points="449.4,2450.9 456.6,2458.1 449.4,2465.3 442.2,2458.1" fill="#fff" stroke="#9900FF" stroke-width="2.4"/><polygon points="435.3,2446.2 442.5,2453.4 435.3,2460.6 428.1,2453.4" fill="#fff" stroke="#9900FF" stroke-width="2.4"/><polygon points="420.1,2441.2 427.3,2448.4 420.1,2455.6 412.9,2448.4" fill="#fff" stroke="#9900FF" stroke-width="2.4"/><polygon points="405.5,2434.5 412.7,2441.7 405.5,2448.9 398.3,2441.7" fill="#fff" stroke="#9900FF" stroke-width="2.4"/><polygon points="390.9,2427.5 398.1,2434.7 390.9,2441.9 383.7,2434.7" fill="#fff" stroke="#9900FF" stroke-width="2.4"/><polygon points="376.3,2419.3 383.5,2426.5 376.3,2433.7 369.1,2426.5" fill="#fff" stroke="#9900FF" stroke-width="2.4"/><polygon points="361.6,2409.9 368.8,2417.1 361.6,2424.3 354.4,2417.1" fill="#fff" stroke="#9900FF" stroke-width="2.4"/><polygon points="347,2397.4 354.2,2404.6 347,2411.8 339.8,2404.6" fill="#fff" stroke="#9900FF" stroke-width="2.4"/><polygon points="331.8,2381.3 339,2388.5 331.8,2395.7 324.6,2388.5" fill="#fff" stroke="#9900FF" stroke-width="2.4"/><polygon points="317.2,2362.8 324.4,2370 317.2,2377.2 310,2370" fill="#fff" stroke="#9900FF" stroke-width="2.4"/><polygon points="304.6,2331.6 311.8,2338.8 304.6,2346 297.4,2338.8" fill="#fff" stroke="#9900FF" stroke-width="2.4"/>
<path d="M310.27 2470.43L317.13 2480.47M328.9 2493.91L330.1 2494.99" stroke="#9900FF" stroke-width="1.3" fill="none" stroke-linecap="round"/>
<polygon points="305.2,2454.4 313.8,2463 305.2,2471.6 296.6,2463" fill="#9900FF"/><polygon points="322.2,2479.3 330.8,2487.9 322.2,2496.5 313.6,2487.9" fill="#9900FF"/><polygon points="336.8,2492.4 345.4,2501 336.8,2509.6 328.2,2501" fill="#9900FF"/><polygon points="352,2501.2 360.6,2509.8 352,2518.4 343.4,2509.8" fill="#9900FF"/><polygon points="366.6,2507.1 375.2,2515.7 366.6,2524.3 358,2515.7" fill="#9900FF"/><polygon points="381.2,2512.9 389.8,2521.5 381.2,2530.1 372.6,2521.5" fill="#9900FF"/><polygon points="395.8,2517.3 404.4,2525.9 395.8,2534.5 387.2,2525.9" fill="#9900FF"/><polygon points="410.5,2520.2 419.1,2528.8 410.5,2537.4 401.9,2528.8" fill="#9900FF"/><polygon points="424.5,2523.2 433.1,2531.8 424.5,2540.4 415.9,2531.8" fill="#9900FF"/><polygon points="439.3,2524.6 447.9,2533.2 439.3,2541.8 430.7,2533.2" fill="#9900FF"/><polygon points="454.1,2526 462.7,2534.6 454.1,2543.2 445.5,2534.6" fill="#9900FF"/><polygon points="468.9,2527.41 477.5,2536.01 468.9,2544.61 460.3,2536.01" fill="#9900FF"/><polygon points="483.7,2528.81 492.3,2537.41 483.7,2546.01 475.1,2537.41" fill="#9900FF"/><polygon points="498.5,2530.21 507.1,2538.81 498.5,2547.41 489.9,2538.81" fill="#9900FF"/><polygon points="513.3,2531.32 521.9,2539.92 513.3,2548.52 504.7,2539.92" fill="#9900FF"/><polygon points="528.1,2532.38 536.7,2540.98 528.1,2549.58 519.5,2540.98" fill="#9900FF"/><polygon points="542.9,2532.9 551.5,2541.5 542.9,2550.1 534.3,2541.5" fill="#9900FF"/><polygon points="557.7,2533.36 566.3,2541.96 557.7,2550.56 549.1,2541.96" fill="#9900FF"/><polygon points="572.5,2533.68 581.1,2542.28 572.5,2550.88 563.9,2542.28" fill="#9900FF"/><polygon points="587.3,2533.98 595.9,2542.58 587.3,2551.18 578.7,2542.58" fill="#9900FF"/><polygon points="602.1,2534 610.7,2542.6 602.1,2551.2 593.5,2542.6" fill="#9900FF"/><polygon points="616.9,2534 625.5,2542.6 616.9,2551.2 608.3,2542.6" fill="#9900FF"/><polygon points="631.7,2530.85 640.3,2539.45 631.7,2548.05 623.1,2539.45" fill="#9900FF"/><polygon points="646.5,2530.74 655.1,2539.34 646.5,2547.94 637.9,2539.34" fill="#9900FF"/><polygon points="661.3,2530.62 669.9,2539.22 661.3,2547.82 652.7,2539.22" fill="#9900FF"/><polygon points="676.1,2530.5 684.7,2539.1 676.1,2547.7 667.5,2539.1" fill="#9900FF"/><polygon points="690.9,2530.38 699.5,2538.98 690.9,2547.58 682.3,2538.98" fill="#9900FF"/><polygon points="705.7,2530.26 714.3,2538.86 705.7,2547.46 697.1,2538.86" fill="#9900FF"/><polygon points="720.5,2530.14 729.1,2538.74 720.5,2547.34 711.9,2538.74" fill="#9900FF"/><polygon points="735.3,2530.02 743.9,2538.62 735.3,2547.22 726.7,2538.62" fill="#9900FF"/><polygon points="750.1,2529.9 758.7,2538.5 750.1,2547.1 741.5,2538.5" fill="#9900FF"/><polygon points="764.9,2529.79 773.5,2538.39 764.9,2546.99 756.3,2538.39" fill="#9900FF"/><polygon points="779.7,2529.67 788.3,2538.27 779.7,2546.87 771.1,2538.27" fill="#9900FF"/><polygon points="794.5,2529.55 803.1,2538.15 794.5,2546.75 785.9,2538.15" fill="#9900FF"/><polygon points="809.3,2529.43 817.9,2538.03 809.3,2546.63 800.7,2538.03" fill="#9900FF"/><polygon points="824.1,2529.31 832.7,2537.91 824.1,2546.51 815.5,2537.91" fill="#9900FF"/><polygon points="838.9,2529.19 847.5,2537.79 838.9,2546.39 830.3,2537.79" fill="#9900FF"/><polygon points="853.7,2529.07 862.3,2537.67 853.7,2546.27 845.1,2537.67" fill="#9900FF"/><polygon points="868.5,2528.95 877.1,2537.55 868.5,2546.15 859.9,2537.55" fill="#9900FF"/><polygon points="883.3,2528.84 891.9,2537.44 883.3,2546.04 874.7,2537.44" fill="#9900FF"/><polygon points="898.1,2528.72 906.7,2537.32 898.1,2545.92 889.5,2537.32" fill="#9900FF"/><polygon points="912.9,2528.6 921.5,2537.2 912.9,2545.8 904.3,2537.2" fill="#9900FF"/><polygon points="927.7,2528.48 936.3,2537.08 927.7,2545.68 919.1,2537.08" fill="#9900FF"/><polygon points="942.5,2528.36 951.1,2536.96 942.5,2545.56 933.9,2536.96" fill="#9900FF"/><polygon points="957.3,2528.24 965.9,2536.84 957.3,2545.44 948.7,2536.84" fill="#9900FF"/><polygon points="972.1,2528.12 980.7,2536.72 972.1,2545.32 963.5,2536.72" fill="#9900FF"/><polygon points="986.9,2528.01 995.5,2536.61 986.9,2545.21 978.3,2536.61" fill="#9900FF"/><polygon points="1001.7,2527.87 1010.3,2536.47 1001.7,2545.07 993.1,2536.47" fill="#9900FF"/><polygon points="1016.5,2527.6 1025.1,2536.2 1016.5,2544.8 1007.9,2536.2" fill="#9900FF"/><polygon points="1031.3,2527.33 1039.9,2535.93 1031.3,2544.53 1022.7,2535.93" fill="#9900FF"/><polygon points="1046.1,2527.06 1054.7,2535.66 1046.1,2544.26 1037.5,2535.66" fill="#9900FF"/><polygon points="1060.9,2526.79 1069.5,2535.39 1060.9,2543.99 1052.3,2535.39" fill="#9900FF"/><polygon points="1075.7,2526.52 1084.3,2535.12 1075.7,2543.72 1067.1,2535.12" fill="#9900FF"/><polygon points="1090.5,2526.21 1099.1,2534.81 1090.5,2543.41 1081.9,2534.81" fill="#9900FF"/><polygon points="1105.3,2525.71 1113.9,2534.31 1105.3,2542.91 1096.7,2534.31" fill="#9900FF"/><polygon points="1120.1,2525.21 1128.7,2533.81 1120.1,2542.41 1111.5,2533.81" fill="#9900FF"/><polygon points="1134.9,2524.71 1143.5,2533.31 1134.9,2541.91 1126.3,2533.31" fill="#9900FF"/><polygon points="1149.7,2524.21 1158.3,2532.81 1149.7,2541.41 1141.1,2532.81" fill="#9900FF"/><polygon points="1164.5,2523.72 1173.1,2532.32 1164.5,2540.92 1155.9,2532.32" fill="#9900FF"/><polygon points="1179.3,2523.22 1187.9,2531.82 1179.3,2540.42 1170.7,2531.82" fill="#9900FF"/><polygon points="1194.1,2522.72 1202.7,2531.32 1194.1,2539.92 1185.5,2531.32" fill="#9900FF"/><polygon points="1208.9,2522.22 1217.5,2530.82 1208.9,2539.42 1200.3,2530.82" fill="#9900FF"/><polygon points="1223.7,2521.72 1232.3,2530.32 1223.7,2538.92 1215.1,2530.32" fill="#9900FF"/><polygon points="1238.5,2521.22 1247.1,2529.82 1238.5,2538.42 1229.9,2529.82" fill="#9900FF"/><polygon points="1253.3,2520.72 1261.9,2529.32 1253.3,2537.92 1244.7,2529.32" fill="#9900FF"/><polygon points="1268.1,2520.21 1276.7,2528.81 1268.1,2537.41 1259.5,2528.81" fill="#9900FF"/><polygon points="1282.9,2519.63 1291.5,2528.23 1282.9,2536.83 1274.3,2528.23" fill="#9900FF"/><polygon points="1297.7,2519.04 1306.3,2527.64 1297.7,2536.24 1289.1,2527.64" fill="#9900FF"/><polygon points="1312.5,2518.46 1321.1,2527.06 1312.5,2535.66 1303.9,2527.06" fill="#9900FF"/>
<path d="M309.34 2556.56L320.26 2575.84M330.66 2587.51L333.24 2589.39" stroke="#00FF00" stroke-width="1.3" fill="none" stroke-linecap="round"/>
<polygon points="301.07,2542 314.07,2549.6 301.07,2557.2" fill="#00FF00"/><polygon points="319.87,2575.2 332.87,2582.8 319.87,2590.4" fill="#00FF00"/><polygon points="335.37,2586.5 348.37,2594.1 335.37,2601.7" fill="#00FF00"/><polygon points="349.67,2594 362.67,2601.6 349.67,2609.2" fill="#00FF00"/><polygon points="364.47,2598.5 377.47,2606.1 364.47,2613.7" fill="#00FF00"/><polygon points="378.87,2601.9 391.87,2609.5 378.87,2617.1" fill="#00FF00"/><polygon points="394.27,2604.3 407.27,2611.9 394.27,2619.5" fill="#00FF00"/><polygon points="408.97,2606.7 421.97,2614.3 408.97,2621.9" fill="#00FF00"/><polygon points="423.67,2608.4 436.67,2616 423.67,2623.6" fill="#00FF00"/><polygon points="438.77,2610.1 451.77,2617.7 438.77,2625.3" fill="#00FF00"/><polygon points="453.47,2611.2 466.47,2618.8 453.47,2626.4" fill="#00FF00"/><polygon points="468.27,2611.37 481.27,2618.97 468.27,2626.57" fill="#00FF00"/><polygon points="483.07,2611.55 496.07,2619.15 483.07,2626.75" fill="#00FF00"/><polygon points="497.87,2611.72 510.87,2619.32 497.87,2626.92" fill="#00FF00"/><polygon points="512.67,2611.9 525.67,2619.5 512.67,2627.1" fill="#00FF00"/><polygon points="527.47,2611.55 540.47,2619.15 527.47,2626.75" fill="#00FF00"/><polygon points="542.27,2611.2 555.27,2618.8 542.27,2626.4" fill="#00FF00"/><polygon points="557.07,2610.97 570.07,2618.57 557.07,2626.17" fill="#00FF00"/><polygon points="571.87,2610.74 584.87,2618.34 571.87,2625.94" fill="#00FF00"/><polygon points="586.67,2610.51 599.67,2618.11 586.67,2625.71" fill="#00FF00"/><polygon points="601.47,2609.73 614.47,2617.33 601.47,2624.93" fill="#00FF00"/><polygon points="616.27,2608.93 629.27,2616.53 616.27,2624.13" fill="#00FF00"/><polygon points="631.07,2608.18 644.07,2615.78 631.07,2623.38" fill="#00FF00"/><polygon points="645.87,2607.42 658.87,2615.02 645.87,2622.62" fill="#00FF00"/><polygon points="660.67,2606.59 673.67,2614.19 660.67,2621.79" fill="#00FF00"/><polygon points="675.47,2605.76 688.47,2613.36 675.47,2620.96" fill="#00FF00"/><polygon points="690.27,2604.93 703.27,2612.53 690.27,2620.13" fill="#00FF00"/><polygon points="705.07,2604.05 718.07,2611.65 705.07,2619.25" fill="#00FF00"/><polygon points="719.87,2603.4 732.87,2611 719.87,2618.6" fill="#00FF00"/><polygon points="734.67,2602.9 747.67,2610.5 734.67,2618.1" fill="#00FF00"/><polygon points="749.47,2602.4 762.47,2610 749.47,2617.6" fill="#00FF00"/><polygon points="764.27,2601.91 777.27,2609.51 764.27,2617.11" fill="#00FF00"/><polygon points="779.07,2601.41 792.07,2609.01 779.07,2616.61" fill="#00FF00"/><polygon points="793.87,2600.91 806.87,2608.51 793.87,2616.11" fill="#00FF00"/><polygon points="808.67,2600.43 821.67,2608.03 808.67,2615.63" fill="#00FF00"/><polygon points="823.47,2600.01 836.47,2607.61 823.47,2615.21" fill="#00FF00"/><polygon points="838.27,2599.59 851.27,2607.19 838.27,2614.79" fill="#00FF00"/><polygon points="853.07,2599.17 866.07,2606.77 853.07,2614.37" fill="#00FF00"/><polygon points="867.87,2598.75 880.87,2606.35 867.87,2613.95" fill="#00FF00"/><polygon points="882.67,2598.33 895.67,2605.93 882.67,2613.53" fill="#00FF00"/><polygon points="897.47,2597.91 910.47,2605.51 897.47,2613.11" fill="#00FF00"/><polygon points="912.27,2597.4 925.27,2605 912.27,2612.6" fill="#00FF00"/><polygon points="927.07,2596.86 940.07,2604.46 927.07,2612.06" fill="#00FF00"/><polygon points="941.87,2596.32 954.87,2603.92 941.87,2611.52" fill="#00FF00"/><polygon points="956.67,2595.78 969.67,2603.38 956.67,2610.98" fill="#00FF00"/><polygon points="971.47,2595.24 984.47,2602.84 971.47,2610.44" fill="#00FF00"/><polygon points="986.27,2594.7 999.27,2602.3 986.27,2609.9" fill="#00FF00"/><polygon points="1001.07,2594.14 1014.07,2601.74 1001.07,2609.34" fill="#00FF00"/><polygon points="1015.87,2593.56 1028.87,2601.16 1015.87,2608.76" fill="#00FF00"/><polygon points="1030.67,2592.98 1043.67,2600.58 1030.67,2608.18" fill="#00FF00"/><polygon points="1045.47,2592.4 1058.47,2600 1045.47,2607.6" fill="#00FF00"/><polygon points="1060.27,2591.82 1073.27,2599.42 1060.27,2607.02" fill="#00FF00"/><polygon points="1075.07,2591.23 1088.07,2598.83 1075.07,2606.43" fill="#00FF00"/><polygon points="1089.87,2590.64 1102.87,2598.24 1089.87,2605.84" fill="#00FF00"/><polygon points="1104.67,2590.02 1117.67,2597.62 1104.67,2605.22" fill="#00FF00"/><polygon points="1119.47,2589.41 1132.47,2597.01 1119.47,2604.61" fill="#00FF00"/><polygon points="1134.27,2588.79 1147.27,2596.39 1134.27,2603.99" fill="#00FF00"/><polygon points="1149.07,2588.17 1162.07,2595.77 1149.07,2603.37" fill="#00FF00"/><polygon points="1163.87,2587.56 1176.87,2595.16 1163.87,2602.76" fill="#00FF00"/><polygon points="1178.67,2587.01 1191.67,2594.61 1178.67,2602.21" fill="#00FF00"/><polygon points="1193.47,2586.56 1206.47,2594.16 1193.47,2601.76" fill="#00FF00"/><polygon points="1208.27,2586.11 1221.27,2593.71 1208.27,2601.31" fill="#00FF00"/><polygon points="1223.07,2585.66 1236.07,2593.26 1223.07,2600.86" fill="#00FF00"/><polygon points="1237.87,2585.22 1250.87,2592.82 1237.87,2600.42" fill="#00FF00"/><polygon points="1252.67,2584.77 1265.67,2592.37 1252.67,2599.97" fill="#00FF00"/><polygon points="1267.47,2584.32 1280.47,2591.92 1267.47,2599.52" fill="#00FF00"/><polygon points="1282.27,2583.88 1295.27,2591.48 1282.27,2599.08" fill="#00FF00"/><polygon points="1297.07,2583.44 1310.07,2591.04 1297.07,2598.64" fill="#00FF00"/><polygon points="1311.87,2582.99 1324.87,2590.59 1311.87,2598.19" fill="#00FF00"/>
<path d="M308.73 2425.26L315.17 2443.74M322.44 2457.82L327.76 2465.28M337.89 2477.62L341.51 2481.48M353.43 2492.06L355.17 2493.34M368.46 2502.21L369.44 2502.79" stroke="#00FF00" stroke-width="1.3" fill="none" stroke-linecap="round"/>
<polygon points="1319.77,2583.07 1331.27,2590.07 1319.77,2597.07" fill="#fff" stroke="#00FF00" stroke-width="3"/><polygon points="1304.97,2582.28 1316.47,2589.28 1304.97,2596.28" fill="#fff" stroke="#00FF00" stroke-width="3"/><polygon points="1290.17,2581.5 1301.67,2588.5 1290.17,2595.5" fill="#fff" stroke="#00FF00" stroke-width="3"/><polygon points="1275.37,2580.71 1286.87,2587.71 1275.37,2594.71" fill="#fff" stroke="#00FF00" stroke-width="3"/><polygon points="1260.57,2579.94 1272.07,2586.94 1260.57,2593.94" fill="#fff" stroke="#00FF00" stroke-width="3"/><polygon points="1245.77,2579.36 1257.27,2586.36 1245.77,2593.36" fill="#fff" stroke="#00FF00" stroke-width="3"/><polygon points="1230.97,2578.78 1242.47,2585.78 1230.97,2592.78" fill="#fff" stroke="#00FF00" stroke-width="3"/><polygon points="1216.17,2578.2 1227.67,2585.2 1216.17,2592.2" fill="#fff" stroke="#00FF00" stroke-width="3"/><polygon points="1201.37,2577.62 1212.87,2584.62 1201.37,2591.62" fill="#fff" stroke="#00FF00" stroke-width="3"/><polygon points="1186.57,2577.03 1198.07,2584.03 1186.57,2591.03" fill="#fff" stroke="#00FF00" stroke-width="3"/><polygon points="1171.77,2576.45 1183.27,2583.45 1171.77,2590.45" fill="#fff" stroke="#00FF00" stroke-width="3"/><polygon points="1156.97,2575.87 1168.47,2582.87 1156.97,2589.87" fill="#fff" stroke="#00FF00" stroke-width="3"/><polygon points="1142.17,2575.29 1153.67,2582.29 1142.17,2589.29" fill="#fff" stroke="#00FF00" stroke-width="3"/><polygon points="1127.37,2574.7 1138.87,2581.7 1127.37,2588.7" fill="#fff" stroke="#00FF00" stroke-width="3"/><polygon points="1112.57,2574.12 1124.07,2581.12 1112.57,2588.12" fill="#fff" stroke="#00FF00" stroke-width="3"/><polygon points="1097.77,2573.54 1109.27,2580.54 1097.77,2587.54" fill="#fff" stroke="#00FF00" stroke-width="3"/><polygon points="1082.97,2572.96 1094.47,2579.96 1082.97,2586.96" fill="#fff" stroke="#00FF00" stroke-width="3"/><polygon points="1068.17,2572.46 1079.67,2579.46 1068.17,2586.46" fill="#fff" stroke="#00FF00" stroke-width="3"/><polygon points="1053.37,2571.97 1064.87,2578.97 1053.37,2585.97" fill="#fff" stroke="#00FF00" stroke-width="3"/><polygon points="1038.57,2571.47 1050.07,2578.47 1038.57,2585.47" fill="#fff" stroke="#00FF00" stroke-width="3"/><polygon points="1023.77,2570.97 1035.27,2577.97 1023.77,2584.97" fill="#fff" stroke="#00FF00" stroke-width="3"/><polygon points="1008.97,2570.47 1020.47,2577.47 1008.97,2584.47" fill="#fff" stroke="#00FF00" stroke-width="3"/><polygon points="994.17,2569.99 1005.67,2576.99 994.17,2583.99" fill="#fff" stroke="#00FF00" stroke-width="3"/><polygon points="979.37,2569.8 990.87,2576.8 979.37,2583.8" fill="#fff" stroke="#00FF00" stroke-width="3"/><polygon points="964.57,2569.61 976.07,2576.61 964.57,2583.61" fill="#fff" stroke="#00FF00" stroke-width="3"/><polygon points="949.77,2569.42 961.27,2576.42 949.77,2583.42" fill="#fff" stroke="#00FF00" stroke-width="3"/><polygon points="934.97,2569.23 946.47,2576.23 934.97,2583.23" fill="#fff" stroke="#00FF00" stroke-width="3"/><polygon points="920.17,2569.04 931.67,2576.04 920.17,2583.04" fill="#fff" stroke="#00FF00" stroke-width="3"/><polygon points="905.37,2568.85 916.87,2575.85 905.37,2582.85" fill="#fff" stroke="#00FF00" stroke-width="3"/><polygon points="890.57,2568.41 902.07,2575.41 890.57,2582.41" fill="#fff" stroke="#00FF00" stroke-width="3"/><polygon points="875.77,2567.9 887.27,2574.9 875.77,2581.9" fill="#fff" stroke="#00FF00" stroke-width="3"/><polygon points="860.97,2567.38 872.47,2574.38 860.97,2581.38" fill="#fff" stroke="#00FF00" stroke-width="3"/><polygon points="846.17,2566.87 857.67,2573.87 846.17,2580.87" fill="#fff" stroke="#00FF00" stroke-width="3"/><polygon points="831.37,2566.36 842.87,2573.36 831.37,2580.36" fill="#fff" stroke="#00FF00" stroke-width="3"/><polygon points="816.57,2565.84 828.07,2572.84 816.57,2579.84" fill="#fff" stroke="#00FF00" stroke-width="3"/><polygon points="801.77,2565.22 813.27,2572.22 801.77,2579.22" fill="#fff" stroke="#00FF00" stroke-width="3"/><polygon points="786.97,2564.36 798.47,2571.36 786.97,2578.36" fill="#fff" stroke="#00FF00" stroke-width="3"/><polygon points="772.17,2563.51 783.67,2570.51 772.17,2577.51" fill="#fff" stroke="#00FF00" stroke-width="3"/><polygon points="757.37,2562.65 768.87,2569.65 757.37,2576.65" fill="#fff" stroke="#00FF00" stroke-width="3"/><polygon points="742.57,2561.8 754.07,2568.8 742.57,2575.8" fill="#fff" stroke="#00FF00" stroke-width="3"/><polygon points="727.77,2560.95 739.27,2567.95 727.77,2574.95" fill="#fff" stroke="#00FF00" stroke-width="3"/><polygon points="712.97,2560.09 724.47,2567.09 712.97,2574.09" fill="#fff" stroke="#00FF00" stroke-width="3"/><polygon points="698.17,2559.08 709.67,2566.08 698.17,2573.08" fill="#fff" stroke="#00FF00" stroke-width="3"/><polygon points="683.37,2558.05 694.87,2565.05 683.37,2572.05" fill="#fff" stroke="#00FF00" stroke-width="3"/><polygon points="668.57,2557.01 680.07,2564.01 668.57,2571.01" fill="#fff" stroke="#00FF00" stroke-width="3"/><polygon points="653.77,2555.98 665.27,2562.98 653.77,2569.98" fill="#fff" stroke="#00FF00" stroke-width="3"/><polygon points="638.97,2554.95 650.47,2561.95 638.97,2568.95" fill="#fff" stroke="#00FF00" stroke-width="3"/><polygon points="624.17,2553.88 635.67,2560.88 624.17,2567.88" fill="#fff" stroke="#00FF00" stroke-width="3"/><polygon points="609.37,2552.37 620.87,2559.37 609.37,2566.37" fill="#fff" stroke="#00FF00" stroke-width="3"/><polygon points="594.57,2550.95 606.07,2557.95 594.57,2564.95" fill="#fff" stroke="#00FF00" stroke-width="3"/><polygon points="579.77,2549.37 591.27,2556.37 579.77,2563.37" fill="#fff" stroke="#00FF00" stroke-width="3"/><polygon points="564.97,2547.37 576.47,2554.37 564.97,2561.37" fill="#fff" stroke="#00FF00" stroke-width="3"/><polygon points="550.17,2545.51 561.67,2552.51 550.17,2559.51" fill="#fff" stroke="#00FF00" stroke-width="3"/><polygon points="535.37,2543.5 546.87,2550.5 535.37,2557.5" fill="#fff" stroke="#00FF00" stroke-width="3"/><polygon points="520.57,2541.54 532.07,2548.54 520.57,2555.54" fill="#fff" stroke="#00FF00" stroke-width="3"/><polygon points="505.77,2539.2 517.27,2546.2 505.77,2553.2" fill="#fff" stroke="#00FF00" stroke-width="3"/><polygon points="490.97,2536.77 502.47,2543.77 490.97,2550.77" fill="#fff" stroke="#00FF00" stroke-width="3"/><polygon points="476.17,2534.1 487.67,2541.1 476.17,2548.1" fill="#fff" stroke="#00FF00" stroke-width="3"/><polygon points="461.57,2531.2 473.07,2538.2 461.57,2545.2" fill="#fff" stroke="#00FF00" stroke-width="3"/><polygon points="446.97,2527.7 458.47,2534.7 446.97,2541.7" fill="#fff" stroke="#00FF00" stroke-width="3"/><polygon points="432.37,2523.3 443.87,2530.3 432.37,2537.3" fill="#fff" stroke="#00FF00" stroke-width="3"/><polygon points="417.17,2518.3 428.67,2525.3 417.17,2532.3" fill="#fff" stroke="#00FF00" stroke-width="3"/><polygon points="401.67,2513.1 413.17,2520.1 401.67,2527.1" fill="#fff" stroke="#00FF00" stroke-width="3"/><polygon points="387.07,2507.2 398.57,2514.2 387.07,2521.2" fill="#fff" stroke="#00FF00" stroke-width="3"/><polygon points="372.47,2499.9 383.97,2506.9 372.47,2513.9" fill="#fff" stroke="#00FF00" stroke-width="3"/><polygon points="357.77,2491.1 369.27,2498.1 357.77,2505.1" fill="#fff" stroke="#00FF00" stroke-width="3"/><polygon points="343.17,2480.3 354.67,2487.3 343.17,2494.3" fill="#fff" stroke="#00FF00" stroke-width="3"/><polygon points="328.57,2464.8 340.07,2471.8 328.57,2478.8" fill="#fff" stroke="#00FF00" stroke-width="3"/><polygon points="313.97,2444.3 325.47,2451.3 313.97,2458.3" fill="#fff" stroke="#00FF00" stroke-width="3"/><polygon points="302.27,2410.7 313.77,2417.7 302.27,2424.7" fill="#fff" stroke="#00FF00" stroke-width="3"/>
<path d="M307.96 2717.01L319.94 2747.49M327.73 2758.65L332.67 2763.05M344.4 2770.29L346.2 2771.01M359.53 2775.15L360.87 2775.45M388.78 2779.17L389.62 2779.22M403.6 2779.69L404.4 2779.69M418.4 2779.7L419.2 2779.7M433.2 2779.47L434 2779.44M448 2778.97L448.8 2778.94M462.79 2778.31L463.61 2778.26M477.59 2777.45L478.41 2777.4M492.39 2776.66L493.21 2776.62M507.19 2775.97L508.01 2775.93M521.99 2775.2L522.81 2775.15M536.79 2774.34L537.61 2774.3M551.59 2773.49L552.41 2773.45M566.39 2772.65L567.21 2772.6M581.2 2771.96L582 2771.93M596 2771.45L596.8 2771.42M610.79 2770.78L611.61 2770.74M625.59 2769.95L626.41 2769.9M640.39 2769.08L641.21 2769.03M655.19 2768.19L656.01 2768.14M669.99 2767.32L670.81 2767.27M684.79 2766.47L685.61 2766.43M699.59 2765.73L700.41 2765.7M714.39 2765.11L715.21 2765.07M729.19 2764.49L730.01 2764.45M743.99 2763.87L744.81 2763.83M758.8 2763.29L759.6 2763.26M773.6 2762.77L774.4 2762.75M788.4 2762.26L789.2 2762.23M803.2 2761.74L804 2761.72M817.99 2761.19L818.81 2761.16M832.79 2760.6L833.61 2760.57M847.59 2760.01L848.41 2759.98M862.4 2759.47L863.2 2759.44M877.2 2758.98L878 2758.95M892 2758.49L892.8 2758.46M906.8 2757.96L907.6 2757.93M921.6 2757.41L922.4 2757.38M936.4 2756.85L937.2 2756.82M951.17 2755.96L952.03 2755.88M965.97 2754.64L966.83 2754.57M980.79 2753.53L981.61 2753.48M995.59 2752.68L996.41 2752.64M1010.33 2751.22L1011.27 2751.08M1024.98 2748.34L1026.22 2748.02M1038.86 2742.47L1041.94 2740.46M1053.75 2732.94L1056.65 2731.14M1069.55 2726.61L1070.45 2726.51M1084.38 2725.14L1085.22 2725.08M1099.18 2724.02L1100.02 2723.95M1113.99 2723.02L1114.81 2722.97M1128.79 2722.17L1129.61 2722.12M1143.6 2721.5L1144.4 2721.48M1158.4 2721.04L1159.2 2721.02M1173.15 2720L1174.05 2719.9M1187.95 2718.3L1188.85 2718.2M1202.79 2717.02L1203.61 2716.97M1217.59 2716.21L1218.41 2716.17M1232.39 2715.41L1233.21 2715.37M1247.18 2714.44L1248.02 2714.37M1261.98 2713.28L1262.82 2713.21M1276.78 2712.12L1277.62 2712.05M1291.59 2711.15L1292.41 2711.11M1306.4 2710.57L1307.2 2710.55" stroke="#0000FF" stroke-width="1.3" fill="none" stroke-linecap="round"/>
<rect x="299.4" y="2704.5" width="12" height="12" fill="#0000FF"/><rect x="316.5" y="2748" width="12" height="12" fill="#0000FF"/><rect x="331.9" y="2761.7" width="12" height="12" fill="#0000FF"/><rect x="346.7" y="2767.6" width="12" height="12" fill="#0000FF"/><rect x="361.7" y="2771" width="12" height="12" fill="#0000FF"/><rect x="375.8" y="2772.7" width="12" height="12" fill="#0000FF"/><rect x="390.6" y="2773.69" width="12" height="12" fill="#0000FF"/><rect x="405.4" y="2773.7" width="12" height="12" fill="#0000FF"/><rect x="420.2" y="2773.7" width="12" height="12" fill="#0000FF"/><rect x="435" y="2773.21" width="12" height="12" fill="#0000FF"/><rect x="449.8" y="2772.71" width="12" height="12" fill="#0000FF"/><rect x="464.6" y="2771.85" width="12" height="12" fill="#0000FF"/><rect x="479.4" y="2770.99" width="12" height="12" fill="#0000FF"/><rect x="494.2" y="2770.3" width="12" height="12" fill="#0000FF"/><rect x="509" y="2769.6" width="12" height="12" fill="#0000FF"/><rect x="523.8" y="2768.75" width="12" height="12" fill="#0000FF"/><rect x="538.6" y="2767.89" width="12" height="12" fill="#0000FF"/><rect x="553.4" y="2767.05" width="12" height="12" fill="#0000FF"/><rect x="568.2" y="2766.2" width="12" height="12" fill="#0000FF"/><rect x="583" y="2765.69" width="12" height="12" fill="#0000FF"/><rect x="597.8" y="2765.18" width="12" height="12" fill="#0000FF"/><rect x="612.6" y="2764.34" width="12" height="12" fill="#0000FF"/><rect x="627.4" y="2763.51" width="12" height="12" fill="#0000FF"/><rect x="642.2" y="2762.61" width="12" height="12" fill="#0000FF"/><rect x="657" y="2761.72" width="12" height="12" fill="#0000FF"/><rect x="671.8" y="2760.87" width="12" height="12" fill="#0000FF"/><rect x="686.6" y="2760.03" width="12" height="12" fill="#0000FF"/><rect x="701.4" y="2759.4" width="12" height="12" fill="#0000FF"/><rect x="716.2" y="2758.78" width="12" height="12" fill="#0000FF"/><rect x="731" y="2758.16" width="12" height="12" fill="#0000FF"/><rect x="745.8" y="2757.54" width="12" height="12" fill="#0000FF"/><rect x="760.6" y="2757.02" width="12" height="12" fill="#0000FF"/><rect x="775.4" y="2756.5" width="12" height="12" fill="#0000FF"/><rect x="790.2" y="2755.99" width="12" height="12" fill="#0000FF"/><rect x="805" y="2755.47" width="12" height="12" fill="#0000FF"/><rect x="819.8" y="2754.88" width="12" height="12" fill="#0000FF"/><rect x="834.6" y="2754.29" width="12" height="12" fill="#0000FF"/><rect x="849.4" y="2753.7" width="12" height="12" fill="#0000FF"/><rect x="864.2" y="2753.21" width="12" height="12" fill="#0000FF"/><rect x="879" y="2752.72" width="12" height="12" fill="#0000FF"/><rect x="893.8" y="2752.23" width="12" height="12" fill="#0000FF"/><rect x="908.6" y="2751.67" width="12" height="12" fill="#0000FF"/><rect x="923.4" y="2751.11" width="12" height="12" fill="#0000FF"/><rect x="938.2" y="2750.56" width="12" height="12" fill="#0000FF"/><rect x="953" y="2749.28" width="12" height="12" fill="#0000FF"/><rect x="967.8" y="2747.93" width="12" height="12" fill="#0000FF"/><rect x="982.6" y="2747.08" width="12" height="12" fill="#0000FF"/><rect x="997.4" y="2746.24" width="12" height="12" fill="#0000FF"/><rect x="1012.2" y="2744.06" width="12" height="12" fill="#0000FF"/><rect x="1027" y="2740.3" width="12" height="12" fill="#0000FF"/><rect x="1041.8" y="2730.63" width="12" height="12" fill="#0000FF"/><rect x="1056.6" y="2721.44" width="12" height="12" fill="#0000FF"/><rect x="1071.4" y="2719.68" width="12" height="12" fill="#0000FF"/><rect x="1086.2" y="2718.55" width="12" height="12" fill="#0000FF"/><rect x="1101" y="2717.42" width="12" height="12" fill="#0000FF"/><rect x="1115.8" y="2716.57" width="12" height="12" fill="#0000FF"/><rect x="1130.6" y="2715.72" width="12" height="12" fill="#0000FF"/><rect x="1145.4" y="2715.26" width="12" height="12" fill="#0000FF"/><rect x="1160.2" y="2714.8" width="12" height="12" fill="#0000FF"/><rect x="1175" y="2713.1" width="12" height="12" fill="#0000FF"/><rect x="1189.8" y="2711.39" width="12" height="12" fill="#0000FF"/><rect x="1204.6" y="2710.59" width="12" height="12" fill="#0000FF"/><rect x="1219.4" y="2709.79" width="12" height="12" fill="#0000FF"/><rect x="1234.2" y="2708.98" width="12" height="12" fill="#0000FF"/><rect x="1249" y="2707.82" width="12" height="12" fill="#0000FF"/><rect x="1263.8" y="2706.66" width="12" height="12" fill="#0000FF"/><rect x="1278.6" y="2705.5" width="12" height="12" fill="#0000FF"/><rect x="1293.4" y="2704.77" width="12" height="12" fill="#0000FF"/><rect x="1308.2" y="2704.36" width="12" height="12" fill="#0000FF"/>
<path d="M307.22 2564.56L315.58 2595.54M321.5 2607.97L327.7 2616.53M337.04 2626.84L341.26 2630.56M352.39 2638.99L356.01 2641.31M368.21 2648.12L369.99 2648.98M382.88 2654.4L383.72 2654.7M397.02 2659.05L399.08 2659.65M412.49 2663.66L413.41 2663.94M426.93 2667.55L428.67 2667.95M442.41 2670.6L442.99 2670.7M456.78 2673.1L457.82 2673.3M471.61 2675.73L472.49 2675.87M486.36 2677.77L487.84 2677.93M501.75 2679.51L502.65 2679.62M516.59 2680.88L517.41 2680.93M531.39 2681.68L532.21 2681.71M546.17 2682.68L547.03 2682.77M560.94 2684.37L561.86 2684.49M575.74 2686.32L576.66 2686.44M590.57 2687.99L591.43 2688.07M605.37 2689.32L606.23 2689.39M620.18 2690.58L621.02 2690.65M634.98 2691.77L635.82 2691.84M649.79 2692.81L650.61 2692.86M664.59 2693.7L665.41 2693.75M679.35 2695.01L680.25 2695.12M694.19 2696.31L695.01 2696.36M708.99 2697.05L709.81 2697.09M723.79 2697.77L724.61 2697.81M738.59 2698.49L739.41 2698.53M753.39 2699.21L754.21 2699.25M768.2 2699.75L769 2699.77M783 2700.09L783.8 2700.11M797.8 2700.44L798.6 2700.45M812.6 2700.78L813.4 2700.79M827.4 2701.12L828.2 2701.13M842.2 2701.3L843 2701.3M857 2701.3L857.8 2701.3M871.8 2701.3L872.6 2701.3M886.6 2701.3L887.4 2701.3M901.4 2701.11L902.2 2701.08M916.2 2700.7L917 2700.68M931 2700.28L931.8 2700.25M945.78 2699.52L946.62 2699.46M960.58 2698.41L961.42 2698.35M975.38 2697.3L976.22 2697.24M990.18 2696.19L991.02 2696.12M1005 2695.5L1005.8 2695.49M1019.8 2695.31L1020.6 2695.3M1034.6 2695.3L1035.4 2695.31M1049.4 2695.51L1050.2 2695.52M1064.19 2696.06L1065.01 2696.11M1078.99 2696.96L1079.81 2697.01M1093.8 2697.68L1094.6 2697.71M1108.6 2698.22L1109.4 2698.25M1123.4 2698.74L1124.2 2698.77M1138.2 2699.25L1139 2699.28M1152.98 2700.03L1153.82 2700.09M1167.78 2701.1L1168.62 2701.16M1182.59 2701.93L1183.41 2701.97M1197.4 2702.5L1198.2 2702.53M1212.2 2703.04L1213 2703.06M1227 2703.55L1227.8 2703.58M1241.79 2704.09L1242.61 2704.12M1256.59 2704.66L1257.41 2704.7M1271.39 2705.26L1272.21 2705.29M1286.19 2705.87L1287.01 2705.91M1300.99 2706.59L1301.81 2706.64M1315.79 2707.39L1316.61 2707.44" stroke="#0000FF" stroke-width="1.3" fill="none" stroke-linecap="round"/>
<rect x="1318.85" y="2703.07" width="9.5" height="9.5" fill="#fff" stroke="#0000FF" stroke-width="2.6"/><rect x="1304.05" y="2702.27" width="9.5" height="9.5" fill="#fff" stroke="#0000FF" stroke-width="2.6"/><rect x="1289.25" y="2701.47" width="9.5" height="9.5" fill="#fff" stroke="#0000FF" stroke-width="2.6"/><rect x="1274.45" y="2700.82" width="9.5" height="9.5" fill="#fff" stroke="#0000FF" stroke-width="2.6"/><rect x="1259.65" y="2700.23" width="9.5" height="9.5" fill="#fff" stroke="#0000FF" stroke-width="2.6"/><rect x="1244.85" y="2699.63" width="9.5" height="9.5" fill="#fff" stroke="#0000FF" stroke-width="2.6"/><rect x="1230.05" y="2699.07" width="9.5" height="9.5" fill="#fff" stroke="#0000FF" stroke-width="2.6"/><rect x="1215.25" y="2698.56" width="9.5" height="9.5" fill="#fff" stroke="#0000FF" stroke-width="2.6"/><rect x="1200.45" y="2698.04" width="9.5" height="9.5" fill="#fff" stroke="#0000FF" stroke-width="2.6"/><rect x="1185.65" y="2697.49" width="9.5" height="9.5" fill="#fff" stroke="#0000FF" stroke-width="2.6"/><rect x="1170.85" y="2696.91" width="9.5" height="9.5" fill="#fff" stroke="#0000FF" stroke-width="2.6"/><rect x="1156.05" y="2695.84" width="9.5" height="9.5" fill="#fff" stroke="#0000FF" stroke-width="2.6"/><rect x="1141.25" y="2694.77" width="9.5" height="9.5" fill="#fff" stroke="#0000FF" stroke-width="2.6"/><rect x="1126.45" y="2694.26" width="9.5" height="9.5" fill="#fff" stroke="#0000FF" stroke-width="2.6"/><rect x="1111.65" y="2693.75" width="9.5" height="9.5" fill="#fff" stroke="#0000FF" stroke-width="2.6"/><rect x="1096.85" y="2693.21" width="9.5" height="9.5" fill="#fff" stroke="#0000FF" stroke-width="2.6"/><rect x="1082.05" y="2692.68" width="9.5" height="9.5" fill="#fff" stroke="#0000FF" stroke-width="2.6"/><rect x="1067.25" y="2691.79" width="9.5" height="9.5" fill="#fff" stroke="#0000FF" stroke-width="2.6"/><rect x="1052.45" y="2690.88" width="9.5" height="9.5" fill="#fff" stroke="#0000FF" stroke-width="2.6"/><rect x="1037.65" y="2690.66" width="9.5" height="9.5" fill="#fff" stroke="#0000FF" stroke-width="2.6"/><rect x="1022.85" y="2690.45" width="9.5" height="9.5" fill="#fff" stroke="#0000FF" stroke-width="2.6"/><rect x="1008.05" y="2690.65" width="9.5" height="9.5" fill="#fff" stroke="#0000FF" stroke-width="2.6"/><rect x="993.25" y="2690.85" width="9.5" height="9.5" fill="#fff" stroke="#0000FF" stroke-width="2.6"/><rect x="978.45" y="2691.96" width="9.5" height="9.5" fill="#fff" stroke="#0000FF" stroke-width="2.6"/><rect x="963.65" y="2693.07" width="9.5" height="9.5" fill="#fff" stroke="#0000FF" stroke-width="2.6"/><rect x="948.85" y="2694.18" width="9.5" height="9.5" fill="#fff" stroke="#0000FF" stroke-width="2.6"/><rect x="934.05" y="2695.3" width="9.5" height="9.5" fill="#fff" stroke="#0000FF" stroke-width="2.6"/><rect x="919.25" y="2695.74" width="9.5" height="9.5" fill="#fff" stroke="#0000FF" stroke-width="2.6"/><rect x="904.45" y="2696.14" width="9.5" height="9.5" fill="#fff" stroke="#0000FF" stroke-width="2.6"/><rect x="889.65" y="2696.55" width="9.5" height="9.5" fill="#fff" stroke="#0000FF" stroke-width="2.6"/><rect x="874.85" y="2696.55" width="9.5" height="9.5" fill="#fff" stroke="#0000FF" stroke-width="2.6"/><rect x="860.05" y="2696.55" width="9.5" height="9.5" fill="#fff" stroke="#0000FF" stroke-width="2.6"/><rect x="845.25" y="2696.55" width="9.5" height="9.5" fill="#fff" stroke="#0000FF" stroke-width="2.6"/><rect x="830.45" y="2696.55" width="9.5" height="9.5" fill="#fff" stroke="#0000FF" stroke-width="2.6"/><rect x="815.65" y="2696.2" width="9.5" height="9.5" fill="#fff" stroke="#0000FF" stroke-width="2.6"/><rect x="800.85" y="2695.86" width="9.5" height="9.5" fill="#fff" stroke="#0000FF" stroke-width="2.6"/><rect x="786.05" y="2695.52" width="9.5" height="9.5" fill="#fff" stroke="#0000FF" stroke-width="2.6"/><rect x="771.25" y="2695.18" width="9.5" height="9.5" fill="#fff" stroke="#0000FF" stroke-width="2.6"/><rect x="756.45" y="2694.84" width="9.5" height="9.5" fill="#fff" stroke="#0000FF" stroke-width="2.6"/><rect x="741.65" y="2694.12" width="9.5" height="9.5" fill="#fff" stroke="#0000FF" stroke-width="2.6"/><rect x="726.85" y="2693.4" width="9.5" height="9.5" fill="#fff" stroke="#0000FF" stroke-width="2.6"/><rect x="712.05" y="2692.68" width="9.5" height="9.5" fill="#fff" stroke="#0000FF" stroke-width="2.6"/><rect x="697.25" y="2691.96" width="9.5" height="9.5" fill="#fff" stroke="#0000FF" stroke-width="2.6"/><rect x="682.45" y="2691.21" width="9.5" height="9.5" fill="#fff" stroke="#0000FF" stroke-width="2.6"/><rect x="667.65" y="2689.42" width="9.5" height="9.5" fill="#fff" stroke="#0000FF" stroke-width="2.6"/><rect x="652.85" y="2688.52" width="9.5" height="9.5" fill="#fff" stroke="#0000FF" stroke-width="2.6"/><rect x="638.05" y="2687.66" width="9.5" height="9.5" fill="#fff" stroke="#0000FF" stroke-width="2.6"/><rect x="623.25" y="2686.46" width="9.5" height="9.5" fill="#fff" stroke="#0000FF" stroke-width="2.6"/><rect x="608.45" y="2685.27" width="9.5" height="9.5" fill="#fff" stroke="#0000FF" stroke-width="2.6"/><rect x="593.65" y="2683.94" width="9.5" height="9.5" fill="#fff" stroke="#0000FF" stroke-width="2.6"/><rect x="578.85" y="2682.62" width="9.5" height="9.5" fill="#fff" stroke="#0000FF" stroke-width="2.6"/><rect x="564.05" y="2680.64" width="9.5" height="9.5" fill="#fff" stroke="#0000FF" stroke-width="2.6"/><rect x="549.25" y="2678.71" width="9.5" height="9.5" fill="#fff" stroke="#0000FF" stroke-width="2.6"/><rect x="534.45" y="2677.25" width="9.5" height="9.5" fill="#fff" stroke="#0000FF" stroke-width="2.6"/><rect x="519.65" y="2676.64" width="9.5" height="9.5" fill="#fff" stroke="#0000FF" stroke-width="2.6"/><rect x="504.85" y="2675.68" width="9.5" height="9.5" fill="#fff" stroke="#0000FF" stroke-width="2.6"/><rect x="490.05" y="2673.95" width="9.5" height="9.5" fill="#fff" stroke="#0000FF" stroke-width="2.6"/><rect x="474.65" y="2672.25" width="9.5" height="9.5" fill="#fff" stroke="#0000FF" stroke-width="2.6"/><rect x="459.95" y="2669.85" width="9.5" height="9.5" fill="#fff" stroke="#0000FF" stroke-width="2.6"/><rect x="445.15" y="2667.05" width="9.5" height="9.5" fill="#fff" stroke="#0000FF" stroke-width="2.6"/><rect x="430.75" y="2664.75" width="9.5" height="9.5" fill="#fff" stroke="#0000FF" stroke-width="2.6"/><rect x="415.35" y="2661.25" width="9.5" height="9.5" fill="#fff" stroke="#0000FF" stroke-width="2.6"/><rect x="401.05" y="2656.85" width="9.5" height="9.5" fill="#fff" stroke="#0000FF" stroke-width="2.6"/><rect x="385.55" y="2652.35" width="9.5" height="9.5" fill="#fff" stroke="#0000FF" stroke-width="2.6"/><rect x="371.55" y="2647.25" width="9.5" height="9.5" fill="#fff" stroke="#0000FF" stroke-width="2.6"/><rect x="357.15" y="2640.35" width="9.5" height="9.5" fill="#fff" stroke="#0000FF" stroke-width="2.6"/><rect x="341.75" y="2630.45" width="9.5" height="9.5" fill="#fff" stroke="#0000FF" stroke-width="2.6"/><rect x="327.05" y="2617.45" width="9.5" height="9.5" fill="#fff" stroke="#0000FF" stroke-width="2.6"/><rect x="312.65" y="2597.55" width="9.5" height="9.5" fill="#fff" stroke="#0000FF" stroke-width="2.6"/><rect x="300.65" y="2553.05" width="9.5" height="9.5" fill="#fff" stroke="#0000FF" stroke-width="2.6"/>
<path d="M868 2761L1149.5 2745" stroke="#000" stroke-width="3.8" stroke-linecap="round" stroke-dasharray="0.1 8.1" fill="none"/>
<path d="M990.4 2791.9L1061 2722.4" stroke="#000" stroke-width="3.8" stroke-linecap="round" stroke-dasharray="0.1 8.1" fill="none"/>
</svg></body></html>
